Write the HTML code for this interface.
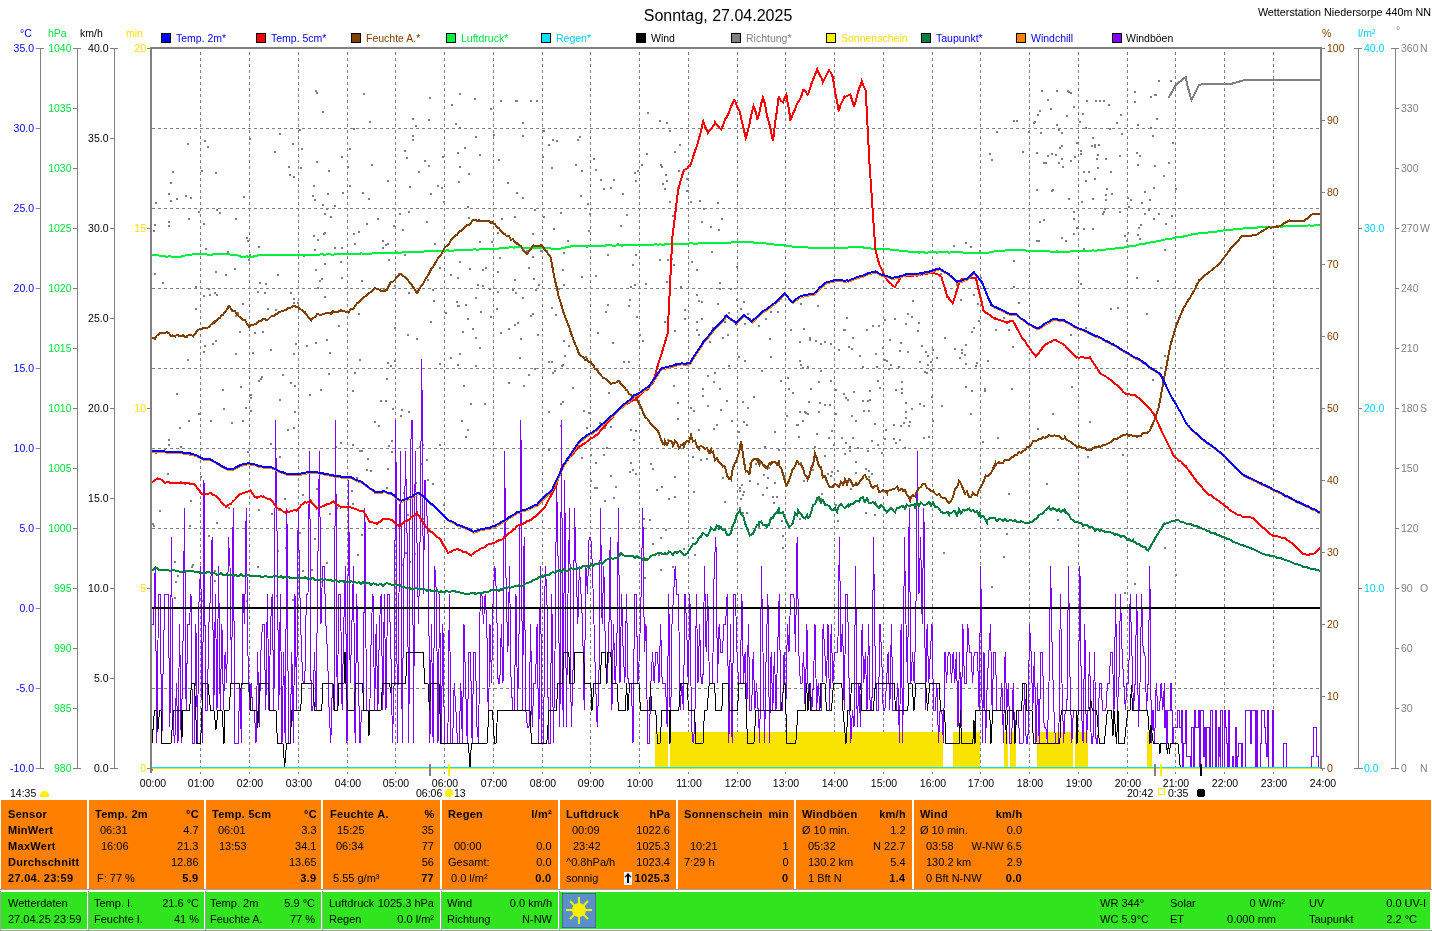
<!DOCTYPE html>
<html><head><meta charset="utf-8"><title>Wetterstation Niedersorpe</title>
<style>
html,body{margin:0;padding:0;background:#fff;width:1432px;height:931px;overflow:hidden;position:relative}
.t{position:absolute;font-family:"Liberation Sans",Arial,sans-serif;font-size:11px;line-height:16px;color:#000;white-space:nowrap}
svg text{font-family:"Liberation Sans",Arial,sans-serif}
</style></head><body>
<svg width="1432" height="800" viewBox="0 0 1432 800" style="position:absolute;left:0;top:0" font-family="Liberation Sans, Arial, sans-serif" font-size="10.5" shape-rendering="crispEdges"><line x1="200.5" y1="52" x2="200.5" y2="774" stroke="#808080" stroke-dasharray="3 3"/>
<line x1="249.5" y1="52" x2="249.5" y2="774" stroke="#808080" stroke-dasharray="3 3"/>
<line x1="298.5" y1="52" x2="298.5" y2="774" stroke="#808080" stroke-dasharray="3 3"/>
<line x1="347.5" y1="52" x2="347.5" y2="774" stroke="#808080" stroke-dasharray="3 3"/>
<line x1="395.5" y1="52" x2="395.5" y2="774" stroke="#808080" stroke-dasharray="3 3"/>
<line x1="444.5" y1="52" x2="444.5" y2="774" stroke="#808080" stroke-dasharray="3 3"/>
<line x1="493.5" y1="52" x2="493.5" y2="774" stroke="#808080" stroke-dasharray="3 3"/>
<line x1="542.5" y1="52" x2="542.5" y2="774" stroke="#808080" stroke-dasharray="3 3"/>
<line x1="590.5" y1="52" x2="590.5" y2="774" stroke="#808080" stroke-dasharray="3 3"/>
<line x1="639.5" y1="52" x2="639.5" y2="774" stroke="#808080" stroke-dasharray="3 3"/>
<line x1="688.5" y1="52" x2="688.5" y2="774" stroke="#808080" stroke-dasharray="3 3"/>
<line x1="737.5" y1="52" x2="737.5" y2="774" stroke="#808080" stroke-dasharray="3 3"/>
<line x1="785.5" y1="52" x2="785.5" y2="774" stroke="#808080" stroke-dasharray="3 3"/>
<line x1="834.5" y1="52" x2="834.5" y2="774" stroke="#808080" stroke-dasharray="3 3"/>
<line x1="883.5" y1="52" x2="883.5" y2="774" stroke="#808080" stroke-dasharray="3 3"/>
<line x1="932.5" y1="52" x2="932.5" y2="774" stroke="#808080" stroke-dasharray="3 3"/>
<line x1="980.5" y1="52" x2="980.5" y2="774" stroke="#808080" stroke-dasharray="3 3"/>
<line x1="1029.5" y1="52" x2="1029.5" y2="774" stroke="#808080" stroke-dasharray="3 3"/>
<line x1="1078.5" y1="52" x2="1078.5" y2="774" stroke="#808080" stroke-dasharray="3 3"/>
<line x1="1127.5" y1="52" x2="1127.5" y2="774" stroke="#808080" stroke-dasharray="3 3"/>
<line x1="1175.5" y1="52" x2="1175.5" y2="774" stroke="#808080" stroke-dasharray="3 3"/>
<line x1="1224.5" y1="52" x2="1224.5" y2="774" stroke="#808080" stroke-dasharray="3 3"/>
<line x1="1273.5" y1="52" x2="1273.5" y2="774" stroke="#808080" stroke-dasharray="3 3"/>
<line x1="152" y1="128.5" x2="1320" y2="128.5" stroke="#808080" stroke-dasharray="3 3"/>
<line x1="152" y1="208.5" x2="1320" y2="208.5" stroke="#808080" stroke-dasharray="3 3"/>
<line x1="152" y1="288.5" x2="1320" y2="288.5" stroke="#808080" stroke-dasharray="3 3"/>
<line x1="152" y1="368.5" x2="1320" y2="368.5" stroke="#808080" stroke-dasharray="3 3"/>
<line x1="152" y1="448.5" x2="1320" y2="448.5" stroke="#808080" stroke-dasharray="3 3"/>
<line x1="152" y1="528.5" x2="1320" y2="528.5" stroke="#808080" stroke-dasharray="3 3"/>
<line x1="152" y1="688.5" x2="1320" y2="688.5" stroke="#808080" stroke-dasharray="3 3"/>
<line x1="152.5" y1="768" x2="152.5" y2="774" stroke="#808080" stroke-dasharray="3 3"/>
<line x1="1322.5" y1="768" x2="1322.5" y2="774" stroke="#808080" stroke-dasharray="3 3"/>
<rect x="655" y="732" width="288" height="35" fill="#F8E400"/>
<rect x="953" y="732" width="27" height="35" fill="#F8E400"/>
<rect x="1004" y="732" width="4" height="35" fill="#F8E400"/>
<rect x="1010" y="732" width="6" height="35" fill="#F8E400"/>
<rect x="1037" y="732" width="36" height="35" fill="#F8E400"/>
<rect x="1075" y="732" width="13" height="35" fill="#F8E400"/>
<rect x="1147" y="732" width="5" height="35" fill="#F8E400"/>
<rect x="668" y="732" width="2" height="35" fill="#fff"/>
<g fill="#808080"><rect x="185" y="195" width="2" height="2"/><rect x="190" y="197" width="2" height="2"/><rect x="176" y="198" width="2" height="2"/><rect x="170" y="200" width="2" height="2"/><rect x="155" y="202" width="2" height="2"/><rect x="154" y="224" width="2" height="2"/><rect x="188" y="218" width="2" height="2"/><rect x="168" y="193" width="2" height="2"/><rect x="198" y="211" width="2" height="2"/><rect x="191" y="566" width="2" height="2"/><rect x="174" y="561" width="2" height="2"/><rect x="168" y="225" width="2" height="2"/><rect x="153" y="230" width="2" height="2"/><rect x="162" y="282" width="2" height="2"/><rect x="195" y="286" width="2" height="2"/><rect x="187" y="359" width="2" height="2"/><rect x="192" y="564" width="2" height="2"/><rect x="195" y="308" width="2" height="2"/><rect x="174" y="597" width="2" height="2"/><rect x="170" y="182" width="2" height="2"/><rect x="187" y="143" width="2" height="2"/><rect x="176" y="393" width="2" height="2"/><rect x="188" y="420" width="2" height="2"/><rect x="179" y="427" width="2" height="2"/><rect x="168" y="444" width="2" height="2"/><rect x="168" y="439" width="2" height="2"/><rect x="155" y="452" width="2" height="2"/><rect x="189" y="454" width="2" height="2"/><rect x="184" y="483" width="2" height="2"/><rect x="200" y="476" width="2" height="2"/><rect x="180" y="446" width="2" height="2"/><rect x="164" y="448" width="2" height="2"/><rect x="159" y="510" width="2" height="2"/><rect x="189" y="525" width="2" height="2"/><rect x="154" y="273" width="2" height="2"/><rect x="172" y="171" width="2" height="2"/><rect x="168" y="221" width="2" height="2"/><rect x="175" y="581" width="2" height="2"/><rect x="177" y="575" width="2" height="2"/><rect x="153" y="525" width="2" height="2"/><rect x="190" y="500" width="2" height="2"/><rect x="180" y="481" width="2" height="2"/><rect x="167" y="473" width="2" height="2"/><rect x="152" y="523" width="2" height="2"/><rect x="198" y="413" width="2" height="2"/><rect x="242" y="420" width="2" height="2"/><rect x="247" y="451" width="2" height="2"/><rect x="207" y="146" width="2" height="2"/><rect x="201" y="170" width="2" height="2"/><rect x="243" y="196" width="2" height="2"/><rect x="216" y="209" width="2" height="2"/><rect x="208" y="288" width="2" height="2"/><rect x="235" y="315" width="2" height="2"/><rect x="203" y="351" width="2" height="2"/><rect x="239" y="331" width="2" height="2"/><rect x="203" y="295" width="2" height="2"/><rect x="209" y="294" width="2" height="2"/><rect x="216" y="294" width="2" height="2"/><rect x="215" y="340" width="2" height="2"/><rect x="215" y="271" width="2" height="2"/><rect x="205" y="248" width="2" height="2"/><rect x="225" y="274" width="2" height="2"/><rect x="234" y="268" width="2" height="2"/><rect x="228" y="507" width="2" height="2"/><rect x="248" y="259" width="2" height="2"/><rect x="249" y="138" width="2" height="2"/><rect x="204" y="140" width="2" height="2"/><rect x="231" y="422" width="2" height="2"/><rect x="222" y="389" width="2" height="2"/><rect x="219" y="212" width="2" height="2"/><rect x="203" y="223" width="2" height="2"/><rect x="235" y="218" width="2" height="2"/><rect x="212" y="343" width="2" height="2"/><rect x="231" y="310" width="2" height="2"/><rect x="204" y="345" width="2" height="2"/><rect x="235" y="353" width="2" height="2"/><rect x="237" y="312" width="2" height="2"/><rect x="242" y="303" width="2" height="2"/><rect x="245" y="407" width="2" height="2"/><rect x="240" y="386" width="2" height="2"/><rect x="248" y="256" width="2" height="2"/><rect x="215" y="172" width="2" height="2"/><rect x="227" y="251" width="2" height="2"/><rect x="246" y="237" width="2" height="2"/><rect x="247" y="240" width="2" height="2"/><rect x="210" y="420" width="2" height="2"/><rect x="233" y="575" width="2" height="2"/><rect x="216" y="522" width="2" height="2"/><rect x="208" y="535" width="2" height="2"/><rect x="214" y="570" width="2" height="2"/><rect x="223" y="408" width="2" height="2"/><rect x="214" y="292" width="2" height="2"/><rect x="214" y="580" width="2" height="2"/><rect x="202" y="600" width="2" height="2"/><rect x="246" y="600" width="2" height="2"/><rect x="279" y="133" width="2" height="2"/><rect x="261" y="376" width="2" height="2"/><rect x="254" y="332" width="2" height="2"/><rect x="293" y="176" width="2" height="2"/><rect x="288" y="166" width="2" height="2"/><rect x="258" y="380" width="2" height="2"/><rect x="260" y="378" width="2" height="2"/><rect x="290" y="382" width="2" height="2"/><rect x="277" y="550" width="2" height="2"/><rect x="285" y="547" width="2" height="2"/><rect x="258" y="509" width="2" height="2"/><rect x="279" y="456" width="2" height="2"/><rect x="265" y="283" width="2" height="2"/><rect x="264" y="292" width="2" height="2"/><rect x="292" y="143" width="2" height="2"/><rect x="274" y="151" width="2" height="2"/><rect x="252" y="352" width="2" height="2"/><rect x="282" y="374" width="2" height="2"/><rect x="257" y="566" width="2" height="2"/><rect x="275" y="448" width="2" height="2"/><rect x="284" y="498" width="2" height="2"/><rect x="259" y="282" width="2" height="2"/><rect x="275" y="309" width="2" height="2"/><rect x="257" y="291" width="2" height="2"/><rect x="290" y="292" width="2" height="2"/><rect x="293" y="302" width="2" height="2"/><rect x="293" y="353" width="2" height="2"/><rect x="293" y="298" width="2" height="2"/><rect x="295" y="343" width="2" height="2"/><rect x="250" y="410" width="2" height="2"/><rect x="279" y="399" width="2" height="2"/><rect x="294" y="385" width="2" height="2"/><rect x="292" y="599" width="2" height="2"/><rect x="276" y="595" width="2" height="2"/><rect x="267" y="308" width="2" height="2"/><rect x="258" y="246" width="2" height="2"/><rect x="289" y="174" width="2" height="2"/><rect x="250" y="394" width="2" height="2"/><rect x="250" y="397" width="2" height="2"/><rect x="294" y="411" width="2" height="2"/><rect x="293" y="427" width="2" height="2"/><rect x="270" y="443" width="2" height="2"/><rect x="287" y="429" width="2" height="2"/><rect x="270" y="349" width="2" height="2"/><rect x="262" y="331" width="2" height="2"/><rect x="271" y="513" width="2" height="2"/><rect x="278" y="509" width="2" height="2"/><rect x="297" y="302" width="2" height="2"/><rect x="249" y="254" width="2" height="2"/><rect x="277" y="274" width="2" height="2"/><rect x="334" y="205" width="2" height="2"/><rect x="321" y="278" width="2" height="2"/><rect x="338" y="325" width="2" height="2"/><rect x="317" y="287" width="2" height="2"/><rect x="340" y="261" width="2" height="2"/><rect x="316" y="488" width="2" height="2"/><rect x="336" y="507" width="2" height="2"/><rect x="341" y="247" width="2" height="2"/><rect x="329" y="513" width="2" height="2"/><rect x="311" y="569" width="2" height="2"/><rect x="312" y="195" width="2" height="2"/><rect x="322" y="204" width="2" height="2"/><rect x="314" y="249" width="2" height="2"/><rect x="316" y="161" width="2" height="2"/><rect x="301" y="148" width="2" height="2"/><rect x="341" y="156" width="2" height="2"/><rect x="299" y="129" width="2" height="2"/><rect x="322" y="111" width="2" height="2"/><rect x="316" y="92" width="2" height="2"/><rect x="315" y="90" width="2" height="2"/><rect x="329" y="352" width="2" height="2"/><rect x="309" y="394" width="2" height="2"/><rect x="320" y="389" width="2" height="2"/><rect x="326" y="339" width="2" height="2"/><rect x="306" y="345" width="2" height="2"/><rect x="314" y="199" width="2" height="2"/><rect x="300" y="167" width="2" height="2"/><rect x="328" y="170" width="2" height="2"/><rect x="324" y="296" width="2" height="2"/><rect x="335" y="446" width="2" height="2"/><rect x="324" y="213" width="2" height="2"/><rect x="327" y="193" width="2" height="2"/><rect x="326" y="208" width="2" height="2"/><rect x="323" y="233" width="2" height="2"/><rect x="313" y="235" width="2" height="2"/><rect x="315" y="269" width="2" height="2"/><rect x="341" y="277" width="2" height="2"/><rect x="326" y="562" width="2" height="2"/><rect x="302" y="570" width="2" height="2"/><rect x="324" y="263" width="2" height="2"/><rect x="330" y="216" width="2" height="2"/><rect x="317" y="239" width="2" height="2"/><rect x="302" y="494" width="2" height="2"/><rect x="334" y="247" width="2" height="2"/><rect x="303" y="255" width="2" height="2"/><rect x="319" y="280" width="2" height="2"/><rect x="340" y="442" width="2" height="2"/><rect x="328" y="373" width="2" height="2"/><rect x="315" y="342" width="2" height="2"/><rect x="313" y="185" width="2" height="2"/><rect x="342" y="192" width="2" height="2"/><rect x="299" y="532" width="2" height="2"/><rect x="314" y="538" width="2" height="2"/><rect x="320" y="581" width="2" height="2"/><rect x="324" y="232" width="2" height="2"/><rect x="387" y="362" width="2" height="2"/><rect x="390" y="365" width="2" height="2"/><rect x="354" y="372" width="2" height="2"/><rect x="394" y="327" width="2" height="2"/><rect x="358" y="313" width="2" height="2"/><rect x="394" y="285" width="2" height="2"/><rect x="377" y="218" width="2" height="2"/><rect x="385" y="244" width="2" height="2"/><rect x="383" y="288" width="2" height="2"/><rect x="387" y="243" width="2" height="2"/><rect x="371" y="164" width="2" height="2"/><rect x="378" y="425" width="2" height="2"/><rect x="361" y="280" width="2" height="2"/><rect x="353" y="128" width="2" height="2"/><rect x="369" y="121" width="2" height="2"/><rect x="349" y="148" width="2" height="2"/><rect x="361" y="450" width="2" height="2"/><rect x="367" y="458" width="2" height="2"/><rect x="352" y="444" width="2" height="2"/><rect x="387" y="468" width="2" height="2"/><rect x="359" y="450" width="2" height="2"/><rect x="388" y="259" width="2" height="2"/><rect x="392" y="408" width="2" height="2"/><rect x="386" y="487" width="2" height="2"/><rect x="347" y="166" width="2" height="2"/><rect x="363" y="93" width="2" height="2"/><rect x="386" y="378" width="2" height="2"/><rect x="374" y="421" width="2" height="2"/><rect x="388" y="445" width="2" height="2"/><rect x="351" y="490" width="2" height="2"/><rect x="362" y="192" width="2" height="2"/><rect x="366" y="223" width="2" height="2"/><rect x="382" y="247" width="2" height="2"/><rect x="361" y="534" width="2" height="2"/><rect x="395" y="581" width="2" height="2"/><rect x="391" y="440" width="2" height="2"/><rect x="385" y="400" width="2" height="2"/><rect x="394" y="360" width="2" height="2"/><rect x="391" y="451" width="2" height="2"/><rect x="370" y="470" width="2" height="2"/><rect x="352" y="503" width="2" height="2"/><rect x="382" y="240" width="2" height="2"/><rect x="353" y="233" width="2" height="2"/><rect x="393" y="225" width="2" height="2"/><rect x="368" y="198" width="2" height="2"/><rect x="366" y="469" width="2" height="2"/><rect x="356" y="477" width="2" height="2"/><rect x="357" y="554" width="2" height="2"/><rect x="354" y="243" width="2" height="2"/><rect x="359" y="359" width="2" height="2"/><rect x="352" y="390" width="2" height="2"/><rect x="349" y="185" width="2" height="2"/><rect x="358" y="231" width="2" height="2"/><rect x="387" y="180" width="2" height="2"/><rect x="380" y="400" width="2" height="2"/><rect x="421" y="463" width="2" height="2"/><rect x="426" y="459" width="2" height="2"/><rect x="443" y="504" width="2" height="2"/><rect x="439" y="444" width="2" height="2"/><rect x="408" y="411" width="2" height="2"/><rect x="407" y="514" width="2" height="2"/><rect x="427" y="531" width="2" height="2"/><rect x="401" y="564" width="2" height="2"/><rect x="405" y="552" width="2" height="2"/><rect x="422" y="518" width="2" height="2"/><rect x="433" y="300" width="2" height="2"/><rect x="416" y="290" width="2" height="2"/><rect x="429" y="97" width="2" height="2"/><rect x="409" y="186" width="2" height="2"/><rect x="428" y="165" width="2" height="2"/><rect x="441" y="187" width="2" height="2"/><rect x="424" y="160" width="2" height="2"/><rect x="398" y="273" width="2" height="2"/><rect x="412" y="118" width="2" height="2"/><rect x="428" y="119" width="2" height="2"/><rect x="412" y="139" width="2" height="2"/><rect x="406" y="157" width="2" height="2"/><rect x="430" y="193" width="2" height="2"/><rect x="399" y="213" width="2" height="2"/><rect x="437" y="185" width="2" height="2"/><rect x="403" y="492" width="2" height="2"/><rect x="418" y="171" width="2" height="2"/><rect x="404" y="150" width="2" height="2"/><rect x="415" y="125" width="2" height="2"/><rect x="412" y="135" width="2" height="2"/><rect x="404" y="254" width="2" height="2"/><rect x="401" y="409" width="2" height="2"/><rect x="422" y="444" width="2" height="2"/><rect x="419" y="446" width="2" height="2"/><rect x="415" y="482" width="2" height="2"/><rect x="407" y="334" width="2" height="2"/><rect x="411" y="285" width="2" height="2"/><rect x="427" y="279" width="2" height="2"/><rect x="432" y="289" width="2" height="2"/><rect x="427" y="479" width="2" height="2"/><rect x="430" y="321" width="2" height="2"/><rect x="408" y="292" width="2" height="2"/><rect x="416" y="338" width="2" height="2"/><rect x="414" y="553" width="2" height="2"/><rect x="439" y="267" width="2" height="2"/><rect x="434" y="243" width="2" height="2"/><rect x="409" y="561" width="2" height="2"/><rect x="400" y="415" width="2" height="2"/><rect x="439" y="363" width="2" height="2"/><rect x="443" y="201" width="2" height="2"/><rect x="408" y="211" width="2" height="2"/><rect x="402" y="229" width="2" height="2"/><rect x="426" y="221" width="2" height="2"/><rect x="442" y="156" width="2" height="2"/><rect x="432" y="483" width="2" height="2"/><rect x="491" y="241" width="2" height="2"/><rect x="468" y="173" width="2" height="2"/><rect x="457" y="152" width="2" height="2"/><rect x="480" y="311" width="2" height="2"/><rect x="473" y="248" width="2" height="2"/><rect x="458" y="305" width="2" height="2"/><rect x="457" y="277" width="2" height="2"/><rect x="489" y="288" width="2" height="2"/><rect x="468" y="217" width="2" height="2"/><rect x="462" y="331" width="2" height="2"/><rect x="445" y="312" width="2" height="2"/><rect x="450" y="274" width="2" height="2"/><rect x="459" y="261" width="2" height="2"/><rect x="479" y="241" width="2" height="2"/><rect x="475" y="365" width="2" height="2"/><rect x="459" y="353" width="2" height="2"/><rect x="450" y="357" width="2" height="2"/><rect x="457" y="364" width="2" height="2"/><rect x="463" y="385" width="2" height="2"/><rect x="457" y="305" width="2" height="2"/><rect x="482" y="285" width="2" height="2"/><rect x="482" y="269" width="2" height="2"/><rect x="475" y="297" width="2" height="2"/><rect x="456" y="301" width="2" height="2"/><rect x="467" y="318" width="2" height="2"/><rect x="475" y="337" width="2" height="2"/><rect x="467" y="429" width="2" height="2"/><rect x="451" y="104" width="2" height="2"/><rect x="475" y="136" width="2" height="2"/><rect x="455" y="123" width="2" height="2"/><rect x="490" y="108" width="2" height="2"/><rect x="459" y="127" width="2" height="2"/><rect x="464" y="147" width="2" height="2"/><rect x="459" y="166" width="2" height="2"/><rect x="484" y="403" width="2" height="2"/><rect x="461" y="420" width="2" height="2"/><rect x="470" y="403" width="2" height="2"/><rect x="472" y="328" width="2" height="2"/><rect x="459" y="93" width="2" height="2"/><rect x="474" y="98" width="2" height="2"/><rect x="477" y="284" width="2" height="2"/><rect x="485" y="267" width="2" height="2"/><rect x="465" y="304" width="2" height="2"/><rect x="469" y="268" width="2" height="2"/><rect x="490" y="316" width="2" height="2"/><rect x="465" y="436" width="2" height="2"/><rect x="458" y="181" width="2" height="2"/><rect x="467" y="206" width="2" height="2"/><rect x="479" y="154" width="2" height="2"/><rect x="479" y="347" width="2" height="2"/><rect x="532" y="256" width="2" height="2"/><rect x="540" y="250" width="2" height="2"/><rect x="522" y="122" width="2" height="2"/><rect x="536" y="100" width="2" height="2"/><rect x="530" y="100" width="2" height="2"/><rect x="516" y="100" width="2" height="2"/><rect x="497" y="271" width="2" height="2"/><rect x="533" y="278" width="2" height="2"/><rect x="526" y="250" width="2" height="2"/><rect x="522" y="297" width="2" height="2"/><rect x="493" y="134" width="2" height="2"/><rect x="530" y="315" width="2" height="2"/><rect x="496" y="308" width="2" height="2"/><rect x="538" y="284" width="2" height="2"/><rect x="512" y="289" width="2" height="2"/><rect x="497" y="291" width="2" height="2"/><rect x="517" y="322" width="2" height="2"/><rect x="537" y="334" width="2" height="2"/><rect x="534" y="368" width="2" height="2"/><rect x="520" y="338" width="2" height="2"/><rect x="508" y="382" width="2" height="2"/><rect x="523" y="385" width="2" height="2"/><rect x="501" y="218" width="2" height="2"/><rect x="528" y="267" width="2" height="2"/><rect x="515" y="292" width="2" height="2"/><rect x="514" y="279" width="2" height="2"/><rect x="499" y="257" width="2" height="2"/><rect x="497" y="232" width="2" height="2"/><rect x="532" y="313" width="2" height="2"/><rect x="519" y="357" width="2" height="2"/><rect x="508" y="328" width="2" height="2"/><rect x="535" y="289" width="2" height="2"/><rect x="500" y="332" width="2" height="2"/><rect x="514" y="324" width="2" height="2"/><rect x="532" y="233" width="2" height="2"/><rect x="498" y="159" width="2" height="2"/><rect x="528" y="374" width="2" height="2"/><rect x="522" y="135" width="2" height="2"/><rect x="515" y="100" width="2" height="2"/><rect x="500" y="100" width="2" height="2"/><rect x="507" y="182" width="2" height="2"/><rect x="534" y="209" width="2" height="2"/><rect x="522" y="197" width="2" height="2"/><rect x="516" y="192" width="2" height="2"/><rect x="514" y="216" width="2" height="2"/><rect x="562" y="269" width="2" height="2"/><rect x="551" y="307" width="2" height="2"/><rect x="568" y="345" width="2" height="2"/><rect x="590" y="454" width="2" height="2"/><rect x="563" y="284" width="2" height="2"/><rect x="586" y="246" width="2" height="2"/><rect x="581" y="170" width="2" height="2"/><rect x="551" y="167" width="2" height="2"/><rect x="542" y="156" width="2" height="2"/><rect x="558" y="288" width="2" height="2"/><rect x="546" y="247" width="2" height="2"/><rect x="587" y="203" width="2" height="2"/><rect x="580" y="195" width="2" height="2"/><rect x="563" y="340" width="2" height="2"/><rect x="588" y="412" width="2" height="2"/><rect x="548" y="411" width="2" height="2"/><rect x="554" y="370" width="2" height="2"/><rect x="564" y="355" width="2" height="2"/><rect x="551" y="361" width="2" height="2"/><rect x="581" y="457" width="2" height="2"/><rect x="560" y="403" width="2" height="2"/><rect x="565" y="319" width="2" height="2"/><rect x="583" y="410" width="2" height="2"/><rect x="563" y="252" width="2" height="2"/><rect x="553" y="228" width="2" height="2"/><rect x="588" y="230" width="2" height="2"/><rect x="560" y="212" width="2" height="2"/><rect x="560" y="425" width="2" height="2"/><rect x="548" y="449" width="2" height="2"/><rect x="555" y="314" width="2" height="2"/><rect x="589" y="213" width="2" height="2"/><rect x="585" y="356" width="2" height="2"/><rect x="577" y="139" width="2" height="2"/><rect x="579" y="136" width="2" height="2"/><rect x="575" y="164" width="2" height="2"/><rect x="567" y="240" width="2" height="2"/><rect x="543" y="216" width="2" height="2"/><rect x="552" y="139" width="2" height="2"/><rect x="548" y="144" width="2" height="2"/><rect x="543" y="130" width="2" height="2"/><rect x="556" y="140" width="2" height="2"/><rect x="581" y="276" width="2" height="2"/><rect x="586" y="427" width="2" height="2"/><rect x="572" y="387" width="2" height="2"/><rect x="546" y="250" width="2" height="2"/><rect x="552" y="372" width="2" height="2"/><rect x="562" y="364" width="2" height="2"/><rect x="561" y="365" width="2" height="2"/><rect x="562" y="401" width="2" height="2"/><rect x="548" y="361" width="2" height="2"/><rect x="617" y="243" width="2" height="2"/><rect x="595" y="275" width="2" height="2"/><rect x="594" y="487" width="2" height="2"/><rect x="590" y="480" width="2" height="2"/><rect x="628" y="361" width="2" height="2"/><rect x="597" y="332" width="2" height="2"/><rect x="605" y="311" width="2" height="2"/><rect x="635" y="430" width="2" height="2"/><rect x="604" y="427" width="2" height="2"/><rect x="620" y="225" width="2" height="2"/><rect x="632" y="264" width="2" height="2"/><rect x="635" y="254" width="2" height="2"/><rect x="623" y="361" width="2" height="2"/><rect x="607" y="304" width="2" height="2"/><rect x="634" y="284" width="2" height="2"/><rect x="600" y="179" width="2" height="2"/><rect x="607" y="254" width="2" height="2"/><rect x="629" y="471" width="2" height="2"/><rect x="635" y="473" width="2" height="2"/><rect x="613" y="497" width="2" height="2"/><rect x="635" y="180" width="2" height="2"/><rect x="630" y="462" width="2" height="2"/><rect x="599" y="422" width="2" height="2"/><rect x="630" y="429" width="2" height="2"/><rect x="610" y="426" width="2" height="2"/><rect x="603" y="454" width="2" height="2"/><rect x="633" y="439" width="2" height="2"/><rect x="595" y="462" width="2" height="2"/><rect x="593" y="158" width="2" height="2"/><rect x="613" y="179" width="2" height="2"/><rect x="603" y="188" width="2" height="2"/><rect x="608" y="392" width="2" height="2"/><rect x="634" y="172" width="2" height="2"/><rect x="610" y="187" width="2" height="2"/><rect x="622" y="193" width="2" height="2"/><rect x="612" y="342" width="2" height="2"/><rect x="595" y="169" width="2" height="2"/><rect x="636" y="316" width="2" height="2"/><rect x="630" y="286" width="2" height="2"/><rect x="629" y="299" width="2" height="2"/><rect x="639" y="334" width="2" height="2"/><rect x="637" y="170" width="2" height="2"/><rect x="615" y="486" width="2" height="2"/><rect x="604" y="500" width="2" height="2"/><rect x="628" y="305" width="2" height="2"/><rect x="626" y="214" width="2" height="2"/><rect x="632" y="469" width="2" height="2"/><rect x="606" y="447" width="2" height="2"/><rect x="596" y="487" width="2" height="2"/><rect x="610" y="475" width="2" height="2"/><rect x="679" y="144" width="2" height="2"/><rect x="669" y="130" width="2" height="2"/><rect x="666" y="122" width="2" height="2"/><rect x="686" y="178" width="2" height="2"/><rect x="643" y="577" width="2" height="2"/><rect x="686" y="190" width="2" height="2"/><rect x="674" y="151" width="2" height="2"/><rect x="647" y="112" width="2" height="2"/><rect x="646" y="153" width="2" height="2"/><rect x="677" y="402" width="2" height="2"/><rect x="672" y="566" width="2" height="2"/><rect x="660" y="569" width="2" height="2"/><rect x="652" y="468" width="2" height="2"/><rect x="650" y="463" width="2" height="2"/><rect x="674" y="476" width="2" height="2"/><rect x="677" y="187" width="2" height="2"/><rect x="672" y="215" width="2" height="2"/><rect x="661" y="166" width="2" height="2"/><rect x="659" y="120" width="2" height="2"/><rect x="656" y="489" width="2" height="2"/><rect x="683" y="548" width="2" height="2"/><rect x="660" y="164" width="2" height="2"/><rect x="665" y="174" width="2" height="2"/><rect x="642" y="340" width="2" height="2"/><rect x="687" y="364" width="2" height="2"/><rect x="684" y="318" width="2" height="2"/><rect x="673" y="385" width="2" height="2"/><rect x="669" y="201" width="2" height="2"/><rect x="677" y="418" width="2" height="2"/><rect x="660" y="537" width="2" height="2"/><rect x="658" y="554" width="2" height="2"/><rect x="644" y="577" width="2" height="2"/><rect x="652" y="543" width="2" height="2"/><rect x="649" y="519" width="2" height="2"/><rect x="668" y="498" width="2" height="2"/><rect x="667" y="439" width="2" height="2"/><rect x="664" y="321" width="2" height="2"/><rect x="666" y="281" width="2" height="2"/><rect x="665" y="529" width="2" height="2"/><rect x="674" y="330" width="2" height="2"/><rect x="680" y="286" width="2" height="2"/><rect x="645" y="283" width="2" height="2"/><rect x="673" y="264" width="2" height="2"/><rect x="667" y="259" width="2" height="2"/><rect x="671" y="258" width="2" height="2"/><rect x="684" y="309" width="2" height="2"/><rect x="662" y="183" width="2" height="2"/><rect x="641" y="164" width="2" height="2"/><rect x="678" y="170" width="2" height="2"/><rect x="666" y="180" width="2" height="2"/><rect x="659" y="259" width="2" height="2"/><rect x="664" y="188" width="2" height="2"/><rect x="643" y="518" width="2" height="2"/><rect x="661" y="486" width="2" height="2"/><rect x="674" y="496" width="2" height="2"/><rect x="696" y="321" width="2" height="2"/><rect x="717" y="303" width="2" height="2"/><rect x="696" y="269" width="2" height="2"/><rect x="736" y="299" width="2" height="2"/><rect x="727" y="334" width="2" height="2"/><rect x="719" y="288" width="2" height="2"/><rect x="696" y="294" width="2" height="2"/><rect x="716" y="424" width="2" height="2"/><rect x="728" y="312" width="2" height="2"/><rect x="722" y="337" width="2" height="2"/><rect x="711" y="251" width="2" height="2"/><rect x="714" y="372" width="2" height="2"/><rect x="728" y="365" width="2" height="2"/><rect x="736" y="266" width="2" height="2"/><rect x="691" y="261" width="2" height="2"/><rect x="719" y="282" width="2" height="2"/><rect x="724" y="315" width="2" height="2"/><rect x="698" y="300" width="2" height="2"/><rect x="698" y="334" width="2" height="2"/><rect x="724" y="321" width="2" height="2"/><rect x="696" y="329" width="2" height="2"/><rect x="712" y="327" width="2" height="2"/><rect x="730" y="288" width="2" height="2"/><rect x="713" y="381" width="2" height="2"/><rect x="700" y="459" width="2" height="2"/><rect x="709" y="341" width="2" height="2"/><rect x="703" y="208" width="2" height="2"/><rect x="718" y="229" width="2" height="2"/><rect x="699" y="200" width="2" height="2"/><rect x="701" y="318" width="2" height="2"/><rect x="694" y="554" width="2" height="2"/><rect x="692" y="537" width="2" height="2"/><rect x="693" y="491" width="2" height="2"/><rect x="698" y="429" width="2" height="2"/><rect x="693" y="410" width="2" height="2"/><rect x="713" y="428" width="2" height="2"/><rect x="692" y="456" width="2" height="2"/><rect x="717" y="202" width="2" height="2"/><rect x="690" y="201" width="2" height="2"/><rect x="702" y="395" width="2" height="2"/><rect x="690" y="407" width="2" height="2"/><rect x="719" y="388" width="2" height="2"/><rect x="707" y="375" width="2" height="2"/><rect x="702" y="388" width="2" height="2"/><rect x="731" y="420" width="2" height="2"/><rect x="701" y="301" width="2" height="2"/><rect x="724" y="501" width="2" height="2"/><rect x="722" y="477" width="2" height="2"/><rect x="721" y="218" width="2" height="2"/><rect x="710" y="226" width="2" height="2"/><rect x="701" y="221" width="2" height="2"/><rect x="720" y="409" width="2" height="2"/><rect x="707" y="405" width="2" height="2"/><rect x="726" y="400" width="2" height="2"/><rect x="706" y="458" width="2" height="2"/><rect x="782" y="535" width="2" height="2"/><rect x="747" y="407" width="2" height="2"/><rect x="768" y="467" width="2" height="2"/><rect x="784" y="475" width="2" height="2"/><rect x="753" y="396" width="2" height="2"/><rect x="780" y="380" width="2" height="2"/><rect x="749" y="318" width="2" height="2"/><rect x="758" y="325" width="2" height="2"/><rect x="744" y="323" width="2" height="2"/><rect x="770" y="311" width="2" height="2"/><rect x="772" y="496" width="2" height="2"/><rect x="765" y="318" width="2" height="2"/><rect x="778" y="300" width="2" height="2"/><rect x="749" y="463" width="2" height="2"/><rect x="782" y="547" width="2" height="2"/><rect x="743" y="421" width="2" height="2"/><rect x="742" y="512" width="2" height="2"/><rect x="749" y="467" width="2" height="2"/><rect x="749" y="480" width="2" height="2"/><rect x="739" y="487" width="2" height="2"/><rect x="738" y="431" width="2" height="2"/><rect x="755" y="463" width="2" height="2"/><rect x="773" y="502" width="2" height="2"/><rect x="766" y="487" width="2" height="2"/><rect x="762" y="494" width="2" height="2"/><rect x="758" y="526" width="2" height="2"/><rect x="764" y="446" width="2" height="2"/><rect x="746" y="424" width="2" height="2"/><rect x="774" y="482" width="2" height="2"/><rect x="740" y="498" width="2" height="2"/><rect x="740" y="308" width="2" height="2"/><rect x="743" y="301" width="2" height="2"/><rect x="747" y="313" width="2" height="2"/><rect x="767" y="477" width="2" height="2"/><rect x="781" y="520" width="2" height="2"/><rect x="739" y="507" width="2" height="2"/><rect x="759" y="463" width="2" height="2"/><rect x="743" y="491" width="2" height="2"/><rect x="741" y="484" width="2" height="2"/><rect x="742" y="401" width="2" height="2"/><rect x="744" y="360" width="2" height="2"/><rect x="776" y="496" width="2" height="2"/><rect x="742" y="494" width="2" height="2"/><rect x="774" y="431" width="2" height="2"/><rect x="757" y="483" width="2" height="2"/><rect x="777" y="311" width="2" height="2"/><rect x="770" y="356" width="2" height="2"/><rect x="761" y="370" width="2" height="2"/><rect x="746" y="512" width="2" height="2"/><rect x="778" y="449" width="2" height="2"/><rect x="763" y="474" width="2" height="2"/><rect x="738" y="356" width="2" height="2"/><rect x="769" y="338" width="2" height="2"/><rect x="777" y="509" width="2" height="2"/><rect x="739" y="490" width="2" height="2"/><rect x="833" y="444" width="2" height="2"/><rect x="805" y="412" width="2" height="2"/><rect x="824" y="404" width="2" height="2"/><rect x="799" y="518" width="2" height="2"/><rect x="802" y="420" width="2" height="2"/><rect x="799" y="360" width="2" height="2"/><rect x="807" y="366" width="2" height="2"/><rect x="831" y="471" width="2" height="2"/><rect x="819" y="402" width="2" height="2"/><rect x="809" y="337" width="2" height="2"/><rect x="790" y="329" width="2" height="2"/><rect x="820" y="370" width="2" height="2"/><rect x="802" y="367" width="2" height="2"/><rect x="809" y="339" width="2" height="2"/><rect x="786" y="415" width="2" height="2"/><rect x="818" y="411" width="2" height="2"/><rect x="830" y="380" width="2" height="2"/><rect x="810" y="388" width="2" height="2"/><rect x="799" y="411" width="2" height="2"/><rect x="788" y="388" width="2" height="2"/><rect x="830" y="343" width="2" height="2"/><rect x="803" y="480" width="2" height="2"/><rect x="812" y="469" width="2" height="2"/><rect x="815" y="456" width="2" height="2"/><rect x="821" y="493" width="2" height="2"/><rect x="830" y="475" width="2" height="2"/><rect x="787" y="377" width="2" height="2"/><rect x="824" y="341" width="2" height="2"/><rect x="818" y="381" width="2" height="2"/><rect x="807" y="367" width="2" height="2"/><rect x="799" y="341" width="2" height="2"/><rect x="803" y="328" width="2" height="2"/><rect x="827" y="473" width="2" height="2"/><rect x="820" y="343" width="2" height="2"/><rect x="828" y="437" width="2" height="2"/><rect x="814" y="446" width="2" height="2"/><rect x="792" y="392" width="2" height="2"/><rect x="829" y="404" width="2" height="2"/><rect x="808" y="401" width="2" height="2"/><rect x="800" y="364" width="2" height="2"/><rect x="804" y="411" width="2" height="2"/><rect x="798" y="436" width="2" height="2"/><rect x="797" y="424" width="2" height="2"/><rect x="820" y="498" width="2" height="2"/><rect x="800" y="462" width="2" height="2"/><rect x="817" y="499" width="2" height="2"/><rect x="824" y="455" width="2" height="2"/><rect x="815" y="340" width="2" height="2"/><rect x="800" y="303" width="2" height="2"/><rect x="817" y="305" width="2" height="2"/><rect x="791" y="469" width="2" height="2"/><rect x="796" y="424" width="2" height="2"/><rect x="816" y="433" width="2" height="2"/><rect x="831" y="430" width="2" height="2"/><rect x="807" y="413" width="2" height="2"/><rect x="862" y="366" width="2" height="2"/><rect x="878" y="325" width="2" height="2"/><rect x="871" y="440" width="2" height="2"/><rect x="846" y="317" width="2" height="2"/><rect x="843" y="329" width="2" height="2"/><rect x="872" y="325" width="2" height="2"/><rect x="853" y="391" width="2" height="2"/><rect x="877" y="380" width="2" height="2"/><rect x="875" y="353" width="2" height="2"/><rect x="851" y="348" width="2" height="2"/><rect x="837" y="470" width="2" height="2"/><rect x="855" y="461" width="2" height="2"/><rect x="841" y="437" width="2" height="2"/><rect x="844" y="453" width="2" height="2"/><rect x="874" y="423" width="2" height="2"/><rect x="869" y="399" width="2" height="2"/><rect x="835" y="389" width="2" height="2"/><rect x="869" y="390" width="2" height="2"/><rect x="852" y="437" width="2" height="2"/><rect x="867" y="450" width="2" height="2"/><rect x="857" y="447" width="2" height="2"/><rect x="838" y="349" width="2" height="2"/><rect x="845" y="442" width="2" height="2"/><rect x="877" y="444" width="2" height="2"/><rect x="851" y="415" width="2" height="2"/><rect x="863" y="410" width="2" height="2"/><rect x="849" y="450" width="2" height="2"/><rect x="881" y="452" width="2" height="2"/><rect x="868" y="470" width="2" height="2"/><rect x="862" y="400" width="2" height="2"/><rect x="845" y="397" width="2" height="2"/><rect x="850" y="488" width="2" height="2"/><rect x="835" y="504" width="2" height="2"/><rect x="866" y="329" width="2" height="2"/><rect x="867" y="400" width="2" height="2"/><rect x="871" y="473" width="2" height="2"/><rect x="855" y="472" width="2" height="2"/><rect x="835" y="413" width="2" height="2"/><rect x="865" y="512" width="2" height="2"/><rect x="837" y="520" width="2" height="2"/><rect x="874" y="514" width="2" height="2"/><rect x="855" y="420" width="2" height="2"/><rect x="879" y="387" width="2" height="2"/><rect x="843" y="393" width="2" height="2"/><rect x="876" y="366" width="2" height="2"/><rect x="882" y="347" width="2" height="2"/><rect x="859" y="355" width="2" height="2"/><rect x="865" y="468" width="2" height="2"/><rect x="849" y="446" width="2" height="2"/><rect x="868" y="410" width="2" height="2"/><rect x="847" y="399" width="2" height="2"/><rect x="848" y="346" width="2" height="2"/><rect x="844" y="329" width="2" height="2"/><rect x="852" y="337" width="2" height="2"/><rect x="868" y="476" width="2" height="2"/><rect x="907" y="313" width="2" height="2"/><rect x="894" y="318" width="2" height="2"/><rect x="890" y="364" width="2" height="2"/><rect x="921" y="345" width="2" height="2"/><rect x="899" y="439" width="2" height="2"/><rect x="923" y="405" width="2" height="2"/><rect x="927" y="364" width="2" height="2"/><rect x="884" y="319" width="2" height="2"/><rect x="905" y="417" width="2" height="2"/><rect x="901" y="388" width="2" height="2"/><rect x="905" y="402" width="2" height="2"/><rect x="919" y="361" width="2" height="2"/><rect x="918" y="322" width="2" height="2"/><rect x="899" y="350" width="2" height="2"/><rect x="907" y="351" width="2" height="2"/><rect x="884" y="438" width="2" height="2"/><rect x="900" y="425" width="2" height="2"/><rect x="895" y="442" width="2" height="2"/><rect x="904" y="447" width="2" height="2"/><rect x="893" y="438" width="2" height="2"/><rect x="911" y="408" width="2" height="2"/><rect x="931" y="396" width="2" height="2"/><rect x="911" y="316" width="2" height="2"/><rect x="884" y="359" width="2" height="2"/><rect x="925" y="351" width="2" height="2"/><rect x="928" y="436" width="2" height="2"/><rect x="901" y="392" width="2" height="2"/><rect x="885" y="429" width="2" height="2"/><rect x="919" y="403" width="2" height="2"/><rect x="908" y="425" width="2" height="2"/><rect x="898" y="366" width="2" height="2"/><rect x="901" y="381" width="2" height="2"/><rect x="893" y="424" width="2" height="2"/><rect x="905" y="323" width="2" height="2"/><rect x="900" y="342" width="2" height="2"/><rect x="909" y="421" width="2" height="2"/><rect x="905" y="411" width="2" height="2"/><rect x="923" y="437" width="2" height="2"/><rect x="886" y="360" width="2" height="2"/><rect x="927" y="355" width="2" height="2"/><rect x="895" y="389" width="2" height="2"/><rect x="912" y="300" width="2" height="2"/><rect x="889" y="339" width="2" height="2"/><rect x="917" y="330" width="2" height="2"/><rect x="926" y="372" width="2" height="2"/><rect x="924" y="371" width="2" height="2"/><rect x="930" y="369" width="2" height="2"/><rect x="903" y="422" width="2" height="2"/><rect x="888" y="368" width="2" height="2"/><rect x="930" y="361" width="2" height="2"/><rect x="932" y="420" width="2" height="2"/><rect x="932" y="349" width="2" height="2"/><rect x="964" y="354" width="2" height="2"/><rect x="973" y="327" width="2" height="2"/><rect x="959" y="357" width="2" height="2"/><rect x="971" y="331" width="2" height="2"/><rect x="975" y="365" width="2" height="2"/><rect x="954" y="348" width="2" height="2"/><rect x="971" y="390" width="2" height="2"/><rect x="970" y="413" width="2" height="2"/><rect x="965" y="386" width="2" height="2"/><rect x="960" y="299" width="2" height="2"/><rect x="965" y="242" width="2" height="2"/><rect x="973" y="294" width="2" height="2"/><rect x="961" y="349" width="2" height="2"/><rect x="936" y="357" width="2" height="2"/><rect x="965" y="363" width="2" height="2"/><rect x="953" y="245" width="2" height="2"/><rect x="977" y="303" width="2" height="2"/><rect x="956" y="284" width="2" height="2"/><rect x="941" y="405" width="2" height="2"/><rect x="940" y="273" width="2" height="2"/><rect x="970" y="246" width="2" height="2"/><rect x="961" y="352" width="2" height="2"/><rect x="978" y="320" width="2" height="2"/><rect x="976" y="362" width="2" height="2"/><rect x="980" y="277" width="2" height="2"/><rect x="979" y="250" width="2" height="2"/><rect x="965" y="344" width="2" height="2"/><rect x="944" y="337" width="2" height="2"/><rect x="1013" y="286" width="2" height="2"/><rect x="984" y="390" width="2" height="2"/><rect x="996" y="131" width="2" height="2"/><rect x="1022" y="151" width="2" height="2"/><rect x="991" y="159" width="2" height="2"/><rect x="989" y="153" width="2" height="2"/><rect x="1018" y="302" width="2" height="2"/><rect x="997" y="437" width="2" height="2"/><rect x="1008" y="493" width="2" height="2"/><rect x="1013" y="260" width="2" height="2"/><rect x="1028" y="131" width="2" height="2"/><rect x="1013" y="120" width="2" height="2"/><rect x="1016" y="120" width="2" height="2"/><rect x="987" y="313" width="2" height="2"/><rect x="987" y="360" width="2" height="2"/><rect x="1011" y="388" width="2" height="2"/><rect x="1003" y="317" width="2" height="2"/><rect x="995" y="329" width="2" height="2"/><rect x="1012" y="346" width="2" height="2"/><rect x="984" y="388" width="2" height="2"/><rect x="982" y="441" width="2" height="2"/><rect x="1024" y="449" width="2" height="2"/><rect x="1047" y="99" width="2" height="2"/><rect x="1033" y="122" width="2" height="2"/><rect x="1045" y="162" width="2" height="2"/><rect x="1070" y="160" width="2" height="2"/><rect x="1068" y="198" width="2" height="2"/><rect x="1076" y="142" width="2" height="2"/><rect x="1043" y="162" width="2" height="2"/><rect x="1036" y="152" width="2" height="2"/><rect x="1061" y="237" width="2" height="2"/><rect x="1052" y="189" width="2" height="2"/><rect x="1036" y="189" width="2" height="2"/><rect x="1051" y="153" width="2" height="2"/><rect x="1061" y="158" width="2" height="2"/><rect x="1066" y="115" width="2" height="2"/><rect x="1073" y="233" width="2" height="2"/><rect x="1062" y="166" width="2" height="2"/><rect x="1058" y="162" width="2" height="2"/><rect x="1061" y="145" width="2" height="2"/><rect x="1068" y="91" width="2" height="2"/><rect x="1040" y="132" width="2" height="2"/><rect x="1055" y="154" width="2" height="2"/><rect x="1074" y="156" width="2" height="2"/><rect x="1056" y="124" width="2" height="2"/><rect x="1039" y="110" width="2" height="2"/><rect x="1051" y="190" width="2" height="2"/><rect x="1047" y="155" width="2" height="2"/><rect x="1050" y="108" width="2" height="2"/><rect x="1061" y="132" width="2" height="2"/><rect x="1073" y="106" width="2" height="2"/><rect x="1059" y="147" width="2" height="2"/><rect x="1058" y="129" width="2" height="2"/><rect x="1073" y="211" width="2" height="2"/><rect x="1070" y="92" width="2" height="2"/><rect x="1037" y="114" width="2" height="2"/><rect x="1041" y="90" width="2" height="2"/><rect x="1067" y="90" width="2" height="2"/><rect x="1056" y="90" width="2" height="2"/><rect x="1039" y="221" width="2" height="2"/><rect x="1043" y="219" width="2" height="2"/><rect x="1073" y="218" width="2" height="2"/><rect x="1038" y="240" width="2" height="2"/><rect x="1036" y="240" width="2" height="2"/><rect x="1065" y="240" width="2" height="2"/><rect x="1076" y="227" width="2" height="2"/><rect x="1034" y="121" width="2" height="2"/><rect x="1096" y="158" width="2" height="2"/><rect x="1119" y="155" width="2" height="2"/><rect x="1082" y="113" width="2" height="2"/><rect x="1085" y="127" width="2" height="2"/><rect x="1094" y="144" width="2" height="2"/><rect x="1080" y="150" width="2" height="2"/><rect x="1120" y="114" width="2" height="2"/><rect x="1097" y="154" width="2" height="2"/><rect x="1092" y="228" width="2" height="2"/><rect x="1097" y="167" width="2" height="2"/><rect x="1080" y="283" width="2" height="2"/><rect x="1105" y="194" width="2" height="2"/><rect x="1104" y="208" width="2" height="2"/><rect x="1091" y="145" width="2" height="2"/><rect x="1094" y="178" width="2" height="2"/><rect x="1106" y="188" width="2" height="2"/><rect x="1085" y="180" width="2" height="2"/><rect x="1111" y="193" width="2" height="2"/><rect x="1126" y="240" width="2" height="2"/><rect x="1124" y="235" width="2" height="2"/><rect x="1092" y="137" width="2" height="2"/><rect x="1083" y="228" width="2" height="2"/><rect x="1102" y="213" width="2" height="2"/><rect x="1103" y="211" width="2" height="2"/><rect x="1083" y="171" width="2" height="2"/><rect x="1098" y="144" width="2" height="2"/><rect x="1083" y="248" width="2" height="2"/><rect x="1119" y="211" width="2" height="2"/><rect x="1105" y="199" width="2" height="2"/><rect x="1081" y="201" width="2" height="2"/><rect x="1121" y="133" width="2" height="2"/><rect x="1092" y="198" width="2" height="2"/><rect x="1080" y="153" width="2" height="2"/><rect x="1095" y="100" width="2" height="2"/><rect x="1110" y="171" width="2" height="2"/><rect x="1094" y="146" width="2" height="2"/><rect x="1088" y="171" width="2" height="2"/><rect x="1105" y="158" width="2" height="2"/><rect x="1108" y="104" width="2" height="2"/><rect x="1086" y="100" width="2" height="2"/><rect x="1099" y="100" width="2" height="2"/><rect x="1079" y="121" width="2" height="2"/><rect x="1103" y="100" width="2" height="2"/><rect x="1116" y="122" width="2" height="2"/><rect x="1109" y="128" width="2" height="2"/><rect x="1171" y="215" width="2" height="2"/><rect x="1158" y="213" width="2" height="2"/><rect x="1153" y="218" width="2" height="2"/><rect x="1127" y="197" width="2" height="2"/><rect x="1134" y="101" width="2" height="2"/><rect x="1170" y="80" width="2" height="2"/><rect x="1141" y="202" width="2" height="2"/><rect x="1140" y="224" width="2" height="2"/><rect x="1127" y="232" width="2" height="2"/><rect x="1136" y="152" width="2" height="2"/><rect x="1163" y="175" width="2" height="2"/><rect x="1153" y="187" width="2" height="2"/><rect x="1148" y="209" width="2" height="2"/><rect x="1139" y="238" width="2" height="2"/><rect x="1137" y="164" width="2" height="2"/><rect x="1156" y="118" width="2" height="2"/><rect x="1137" y="234" width="2" height="2"/><rect x="1138" y="227" width="2" height="2"/><rect x="1157" y="280" width="2" height="2"/><rect x="1144" y="213" width="2" height="2"/><rect x="1136" y="277" width="2" height="2"/><rect x="1168" y="162" width="2" height="2"/><rect x="1130" y="199" width="2" height="2"/><rect x="1165" y="223" width="2" height="2"/><rect x="1128" y="206" width="2" height="2"/><rect x="1150" y="127" width="2" height="2"/><rect x="1134" y="91" width="2" height="2"/><rect x="1154" y="165" width="2" height="2"/><rect x="1164" y="249" width="2" height="2"/><rect x="1172" y="142" width="2" height="2"/><rect x="1139" y="155" width="2" height="2"/><rect x="1150" y="96" width="2" height="2"/><rect x="1158" y="80" width="2" height="2"/><rect x="1155" y="94" width="2" height="2"/><rect x="1152" y="135" width="2" height="2"/><rect x="1144" y="191" width="2" height="2"/><rect x="1175" y="188" width="2" height="2"/><rect x="1154" y="94" width="2" height="2"/><rect x="1137" y="124" width="2" height="2"/><rect x="1149" y="199" width="2" height="2"/><rect x="991" y="586" width="2" height="2"/><rect x="1110" y="308" width="2" height="2"/><rect x="1008" y="329" width="2" height="2"/><rect x="1003" y="556" width="2" height="2"/><rect x="1134" y="583" width="2" height="2"/><rect x="1046" y="483" width="2" height="2"/><rect x="1071" y="386" width="2" height="2"/><rect x="1164" y="355" width="2" height="2"/><rect x="1160" y="367" width="2" height="2"/><rect x="1122" y="454" width="2" height="2"/><rect x="943" y="552" width="2" height="2"/><rect x="1070" y="334" width="2" height="2"/><rect x="1175" y="574" width="2" height="2"/><rect x="1085" y="327" width="2" height="2"/><rect x="1146" y="313" width="2" height="2"/><rect x="1164" y="547" width="2" height="2"/><rect x="1124" y="592" width="2" height="2"/><rect x="1089" y="421" width="2" height="2"/><rect x="1037" y="428" width="2" height="2"/><rect x="1057" y="519" width="2" height="2"/><rect x="1087" y="456" width="2" height="2"/><rect x="1117" y="307" width="2" height="2"/><rect x="1152" y="379" width="2" height="2"/><rect x="1006" y="533" width="2" height="2"/><rect x="1052" y="413" width="2" height="2"/></g>
<polyline points="1168.3,98.3 1176.0,84.7 1185.7,77.0 1187.7,86.7 1191.5,100.2 1199.3,84.7 1207.0,83.6 1232.1,83.6 1245.7,79.7 1320.3,79.7" fill="none" stroke="#808080" stroke-width="2"/>
<polyline points="152.0,624.0 153.6,624.0 155.2,566.0 156.9,743.0 158.5,594.0 160.1,594.0 161.8,743.0 163.4,652.0 165.0,594.0 166.6,594.0 168.2,594.0 169.9,727.0 171.5,537.0 173.1,727.0 174.8,743.0 176.4,683.0 178.0,743.0 179.6,624.0 181.2,743.0 182.9,652.0 184.5,508.0 186.1,710.0 187.8,624.0 189.4,624.0 191.0,594.0 192.6,743.0 194.2,743.0 195.9,624.0 197.5,743.0 199.1,594.0 200.8,566.0 202.4,743.0 204.0,480.0 205.6,710.0 207.2,710.0 208.9,624.0 210.5,594.0 212.1,537.0 213.8,710.0 215.4,594.0 217.0,710.0 218.6,566.0 220.2,710.0 221.9,624.0 223.5,710.0 225.1,652.0 226.8,683.0 228.4,537.0 230.0,566.0 231.6,683.0 233.2,508.0 234.9,743.0 236.5,743.0 238.1,743.0 239.8,683.0 241.4,743.0 243.0,594.0 244.6,624.0 246.2,508.0 247.9,652.0 249.5,710.0 251.1,683.0 252.8,710.0 254.4,710.0 256.0,743.0 257.6,652.0 259.2,727.0 260.9,652.0 262.5,624.0 264.1,624.0 265.8,710.0 267.4,594.0 269.0,710.0 270.6,624.0 272.2,594.0 273.9,710.0 275.5,420.0 277.1,537.0 278.8,710.0 280.4,594.0 282.0,743.0 283.6,652.0 285.2,743.0 286.9,508.0 288.5,743.0 290.1,743.0 291.8,652.0 293.4,743.0 295.0,594.0 296.6,710.0 298.2,508.0 299.9,594.0 301.5,652.0 303.1,683.0 304.8,683.0 306.4,594.0 308.0,594.0 309.6,451.0 311.2,710.0 312.9,710.0 314.5,652.0 316.1,710.0 317.8,566.0 319.4,451.0 321.0,624.0 322.6,566.0 324.2,566.0 325.9,624.0 327.5,652.0 329.1,710.0 330.8,743.0 332.4,683.0 334.0,710.0 335.6,420.0 337.2,710.0 338.9,594.0 340.5,594.0 342.1,710.0 343.8,624.0 345.4,566.0 347.0,743.0 348.6,480.0 350.2,683.0 351.9,624.0 353.5,566.0 355.1,743.0 356.8,594.0 358.4,683.0 360.0,743.0 361.6,710.0 363.2,710.0 364.9,508.0 366.5,710.0 368.1,710.0 369.8,710.0 371.4,624.0 373.0,594.0 374.6,710.0 376.2,624.0 377.9,710.0 379.5,624.0 381.1,594.0 382.8,710.0 384.4,594.0 386.0,710.0 387.6,594.0 389.2,594.0 390.9,652.0 392.5,743.0 394.1,683.0 395.8,420.0 397.4,743.0 399.0,594.0 400.6,451.0 402.2,743.0 403.9,566.0 405.5,451.0 407.1,537.0 408.8,743.0 410.4,451.0 412.0,420.0 413.6,743.0 415.2,451.0 416.9,537.0 418.5,624.0 420.1,537.0 421.8,359.0 423.4,594.0 425.0,480.0 426.6,508.0 428.2,537.0 429.9,743.0 431.5,624.0 433.1,743.0 434.8,566.0 436.4,594.0 438.0,743.0 439.6,594.0 441.2,743.0 442.9,624.0 444.5,743.0 446.1,743.0 447.8,743.0 449.4,594.0 451.0,743.0 452.6,743.0 454.2,683.0 455.9,710.0 457.5,743.0 459.1,743.0 460.8,683.0 462.4,743.0 464.0,624.0 465.6,683.0 467.2,743.0 468.9,652.0 470.5,652.0 472.1,743.0 473.8,652.0 475.4,652.0 477.0,727.0 478.6,743.0 480.2,594.0 481.9,594.0 483.5,624.0 485.1,594.0 486.8,624.0 488.4,727.0 490.0,624.0 491.6,683.0 493.2,594.0 494.9,566.0 496.5,594.0 498.1,683.0 499.8,683.0 501.4,624.0 503.0,683.0 504.6,451.0 506.2,594.0 507.9,652.0 509.5,566.0 511.1,683.0 512.8,710.0 514.4,710.0 516.0,594.0 517.6,710.0 519.2,624.0 520.9,420.0 522.5,710.0 524.1,537.0 525.8,710.0 527.4,727.0 529.0,727.0 530.6,624.0 532.2,727.0 533.9,683.0 535.5,683.0 537.1,624.0 538.8,743.0 540.4,566.0 542.0,743.0 543.6,743.0 545.2,566.0 546.9,594.0 548.5,743.0 550.1,743.0 551.8,594.0 553.4,743.0 555.0,652.0 556.6,480.0 558.2,566.0 559.9,727.0 561.5,420.0 563.1,727.0 564.8,480.0 566.4,727.0 568.0,594.0 569.6,508.0 571.2,727.0 572.9,683.0 574.5,508.0 576.1,566.0 577.8,624.0 579.4,566.0 581.0,594.0 582.6,624.0 584.2,710.0 585.9,566.0 587.5,594.0 589.1,537.0 590.8,537.0 592.4,566.0 594.0,624.0 595.6,683.0 597.2,727.0 598.9,683.0 600.5,508.0 602.1,624.0 603.8,566.0 605.4,652.0 607.0,683.0 608.6,652.0 610.2,537.0 611.9,710.0 613.5,624.0 615.1,683.0 616.8,652.0 618.4,508.0 620.0,683.0 621.6,594.0 623.2,652.0 624.9,683.0 626.5,594.0 628.1,683.0 629.8,683.0 631.4,683.0 633.0,743.0 634.6,594.0 636.2,594.0 637.9,683.0 639.5,652.0 641.1,594.0 642.8,508.0 644.4,652.0 646.0,624.0 647.6,743.0 649.2,743.0 650.9,683.0 652.5,652.0 654.1,683.0 655.8,652.0 657.4,652.0 659.0,683.0 660.6,624.0 662.2,683.0 663.9,683.0 665.5,683.0 667.1,727.0 668.8,594.0 670.4,743.0 672.0,624.0 673.6,594.0 675.2,566.0 676.9,594.0 678.5,594.0 680.1,710.0 681.8,683.0 683.4,710.0 685.0,594.0 686.6,624.0 688.2,683.0 689.9,594.0 691.5,727.0 693.1,743.0 694.8,727.0 696.4,594.0 698.0,683.0 699.6,624.0 701.2,683.0 702.9,683.0 704.5,566.0 706.1,652.0 707.8,594.0 709.4,683.0 711.0,683.0 712.6,683.0 714.2,566.0 715.9,537.0 717.5,683.0 719.1,624.0 720.8,652.0 722.4,652.0 724.0,624.0 725.6,624.0 727.2,594.0 728.9,743.0 730.5,624.0 732.1,743.0 733.8,594.0 735.4,594.0 737.0,652.0 738.6,683.0 740.2,683.0 741.9,594.0 743.5,683.0 745.1,652.0 746.8,710.0 748.4,624.0 750.0,710.0 751.6,710.0 753.2,652.0 754.9,710.0 756.5,683.0 758.1,710.0 759.8,743.0 761.4,566.0 763.0,652.0 764.6,743.0 766.2,652.0 767.9,594.0 769.5,743.0 771.1,652.0 772.8,710.0 774.4,652.0 776.0,710.0 777.6,652.0 779.2,594.0 780.9,710.0 782.5,710.0 784.1,652.0 785.8,710.0 787.4,624.0 789.0,652.0 790.6,594.0 792.2,594.0 793.9,594.0 795.5,652.0 797.1,537.0 798.8,652.0 800.4,683.0 802.0,683.0 803.6,652.0 805.2,710.0 806.9,624.0 808.5,710.0 810.1,683.0 811.8,710.0 813.4,683.0 815.0,624.0 816.6,710.0 818.2,683.0 819.9,710.0 821.5,710.0 823.1,624.0 824.8,652.0 826.4,683.0 828.0,624.0 829.6,710.0 831.2,624.0 832.9,683.0 834.5,652.0 836.1,652.0 837.8,652.0 839.4,537.0 841.0,652.0 842.6,624.0 844.2,710.0 845.9,594.0 847.5,594.0 849.1,683.0 850.8,743.0 852.4,710.0 854.0,727.0 855.6,566.0 857.2,727.0 858.9,683.0 860.5,727.0 862.1,624.0 863.8,683.0 865.4,652.0 867.0,710.0 868.6,624.0 870.2,710.0 871.9,710.0 873.5,537.0 875.1,652.0 876.8,710.0 878.4,710.0 880.0,624.0 881.6,652.0 883.2,710.0 884.9,710.0 886.5,683.0 888.1,652.0 889.8,710.0 891.4,624.0 893.0,710.0 894.6,710.0 896.2,710.0 897.9,683.0 899.5,743.0 901.1,624.0 902.8,743.0 904.4,537.0 906.0,624.0 907.6,683.0 909.2,508.0 910.9,683.0 912.5,652.0 914.1,683.0 915.8,624.0 917.4,451.0 919.0,594.0 920.6,537.0 922.2,624.0 923.9,508.0 925.5,710.0 927.1,624.0 928.8,683.0 930.4,652.0 932.0,624.0 933.6,710.0 935.2,710.0 936.9,683.0 938.5,743.0 940.1,710.0 941.8,710.0 943.4,743.0 945.0,652.0 946.6,683.0 948.2,652.0 949.9,652.0 951.5,683.0 953.1,652.0 954.8,683.0 956.4,652.0 958.0,727.0 959.6,652.0 961.2,727.0 962.9,624.0 964.5,683.0 966.1,683.0 967.8,624.0 969.4,652.0 971.0,652.0 972.6,683.0 974.2,652.0 975.9,652.0 977.5,652.0 979.1,710.0 980.8,566.0 982.4,743.0 984.0,652.0 985.6,743.0 987.2,683.0 988.9,652.0 990.5,624.0 992.1,710.0 993.8,652.0 995.4,652.0 997.0,710.0 998.6,710.0 1000.2,710.0 1001.9,683.0 1003.5,743.0 1005.1,652.0 1006.8,710.0 1008.4,683.0 1010.0,743.0 1011.6,743.0 1013.2,683.0 1014.9,743.0 1016.5,710.0 1018.1,710.0 1019.8,743.0 1021.4,743.0 1023.0,743.0 1024.6,683.0 1026.2,743.0 1027.9,743.0 1029.5,624.0 1031.1,652.0 1032.8,710.0 1034.4,652.0 1036.0,743.0 1037.6,683.0 1039.2,743.0 1040.9,652.0 1042.5,652.0 1044.1,727.0 1045.8,727.0 1047.4,743.0 1049.0,683.0 1050.6,566.0 1052.2,652.0 1053.9,710.0 1055.5,743.0 1057.1,743.0 1058.8,743.0 1060.4,594.0 1062.0,683.0 1063.6,743.0 1065.2,710.0 1066.9,710.0 1068.5,566.0 1070.1,683.0 1071.8,743.0 1073.4,710.0 1075.0,710.0 1076.6,710.0 1078.2,710.0 1079.9,566.0 1081.5,710.0 1083.1,743.0 1084.8,624.0 1086.4,743.0 1088.0,710.0 1089.6,652.0 1091.2,743.0 1092.9,743.0 1094.5,652.0 1096.1,743.0 1097.8,743.0 1099.4,683.0 1101.0,683.0 1102.6,710.0 1104.2,710.0 1105.9,710.0 1107.5,683.0 1109.1,683.0 1110.8,652.0 1112.4,652.0 1114.0,710.0 1115.6,594.0 1117.2,710.0 1118.9,683.0 1120.5,594.0 1122.1,652.0 1123.8,683.0 1125.4,710.0 1127.0,683.0 1128.6,683.0 1130.2,594.0 1131.9,652.0 1133.5,710.0 1135.1,683.0 1136.8,594.0 1138.4,727.0 1140.0,683.0 1141.6,594.0 1143.2,652.0 1144.9,652.0 1146.5,710.0 1148.1,683.0 1149.8,566.0 1151.4,743.0 1153.0,710.0 1154.6,743.0 1156.2,683.0 1157.9,710.0 1159.5,710.0 1161.1,683.0 1162.8,710.0 1164.5,683.0 1164.5,727.0 1164.5,727.0 1164.5,727.0 1165.5,727.0 1165.5,710.0 1166.5,710.0 1166.5,743.0 1167.5,743.0 1167.5,710.0 1168.5,710.0 1168.5,710.0 1168.5,710.0 1168.5,710.0 1169.5,710.0 1169.5,710.0 1170.5,710.0 1170.5,683.0 1171.5,683.0 1171.5,710.0 1172.5,710.0 1172.5,743.0 1172.5,743.0 1172.5,743.0 1173.5,743.0 1173.5,727.0 1174.5,727.0 1174.5,727.0 1175.5,727.0 1175.5,727.0 1176.5,727.0 1176.5,727.0 1177.5,727.0 1177.5,710.0 1177.5,710.0 1177.5,710.0 1178.5,710.0 1178.5,710.0 1179.5,710.0 1179.5,727.0 1180.5,727.0 1180.5,727.0 1181.5,727.0 1181.5,743.0 1181.5,743.0 1181.5,710.0 1182.5,710.0 1182.5,767.0 1183.5,767.0 1183.5,743.0 1184.5,743.0 1184.5,743.0 1185.5,743.0 1185.5,710.0 1186.5,710.0 1186.5,710.0 1186.5,710.0 1186.5,756.0 1187.5,756.0 1187.5,756.0 1188.5,756.0 1188.5,756.0 1189.5,756.0 1189.5,756.0 1190.5,756.0 1190.5,767.0 1190.5,767.0 1190.5,767.0 1191.5,767.0 1191.5,727.0 1192.5,727.0 1192.5,727.0 1193.5,727.0 1193.5,767.0 1194.5,767.0 1194.5,756.0 1194.5,756.0 1194.5,710.0 1195.5,710.0 1195.5,727.0 1196.5,727.0 1196.5,727.0 1197.5,727.0 1197.5,727.0 1198.5,727.0 1198.5,727.0 1198.5,727.0 1198.5,710.0 1199.5,710.0 1199.5,767.0 1200.5,767.0 1200.5,710.0 1201.5,710.0 1201.5,710.0 1202.5,710.0 1202.5,710.0 1203.5,710.0 1203.5,727.0 1203.5,727.0 1203.5,756.0 1204.5,756.0 1204.5,727.0 1205.5,727.0 1205.5,767.0 1206.5,767.0 1206.5,727.0 1207.5,727.0 1207.5,727.0 1207.5,727.0 1207.5,727.0 1208.5,727.0 1208.5,727.0 1209.5,727.0 1209.5,767.0 1210.5,767.0 1210.5,710.0 1211.5,710.0 1211.5,710.0 1212.5,710.0 1212.5,727.0 1212.5,727.0 1212.5,767.0 1213.5,767.0 1213.5,767.0 1214.5,767.0 1214.5,767.0 1215.5,767.0 1215.5,710.0 1216.5,710.0 1216.5,710.0 1216.5,710.0 1216.5,767.0 1217.5,767.0 1217.5,767.0 1218.5,767.0 1218.5,727.0 1219.5,727.0 1219.5,756.0 1220.5,756.0 1220.5,767.0 1220.5,767.0 1220.5,710.0 1221.5,710.0 1221.5,710.0 1222.5,710.0 1222.5,767.0 1223.5,767.0 1223.5,767.0 1224.5,767.0 1224.5,767.0 1224.5,767.0 1224.5,710.0 1225.5,710.0 1225.5,727.0 1226.5,727.0 1226.5,743.0 1227.5,743.0 1227.5,767.0 1228.5,767.0 1228.5,710.0 1229.5,710.0 1229.5,767.0 1229.5,767.0 1229.5,767.0 1230.5,767.0 1230.5,767.0 1231.5,767.0 1231.5,767.0 1232.5,767.0 1232.5,756.0 1233.5,756.0 1233.5,756.0 1233.5,756.0 1233.5,767.0 1234.5,767.0 1234.5,767.0 1235.5,767.0 1235.5,727.0 1236.5,727.0 1236.5,767.0 1237.5,767.0 1237.5,756.0 1238.5,756.0 1238.5,743.0 1238.5,743.0 1238.5,743.0 1239.5,743.0 1239.5,743.0 1240.5,743.0 1240.5,743.0 1241.5,743.0 1241.5,767.0 1242.5,767.0 1242.5,743.0 1242.5,743.0 1242.5,767.0 1243.5,767.0 1243.5,767.0 1244.5,767.0 1244.5,767.0 1245.5,767.0 1245.5,710.0 1246.5,710.0 1246.5,710.0 1246.5,710.0 1246.5,710.0 1247.5,710.0 1247.5,710.0 1248.5,710.0 1248.5,710.0 1249.5,710.0 1249.5,710.0 1250.5,710.0 1250.5,710.0 1250.5,710.0 1250.5,743.0 1251.5,743.0 1251.5,710.0 1252.5,710.0 1252.5,710.0 1253.5,710.0 1253.5,710.0 1254.5,710.0 1254.5,710.0 1255.5,710.0 1255.5,710.0 1255.5,710.0 1255.5,767.0 1256.5,767.0 1256.5,710.0 1257.5,710.0 1257.5,767.0 1258.5,767.0 1258.5,767.0 1259.5,767.0 1259.5,767.0 1259.5,767.0 1259.5,767.0 1260.5,767.0 1260.5,743.0 1261.5,743.0 1261.5,710.0 1262.5,710.0 1262.5,710.0 1263.5,710.0 1263.5,710.0 1264.5,710.0 1264.5,727.0 1264.5,727.0 1264.5,727.0 1265.5,727.0 1265.5,743.0 1266.5,743.0 1266.5,756.0 1267.5,756.0 1267.5,710.0 1268.5,710.0 1268.5,756.0 1268.5,756.0 1268.5,767.0 1269.5,767.0 1269.5,767.0 1270.5,767.0 1270.5,767.0 1271.5,767.0 1271.5,767.0 1272.5,767.0 1272.5,767.0 1272.5,767.0 1272.5,710.0 1273.5,710.0 1273.5,767.0 1274.5,767.0 1274.5,767.0 1275.5,767.0 1275.5,767.0 1276.5,767.0 1276.5,767.0 1276.5,767.0 1276.5,767.0 1277.5,767.0 1277.5,767.0 1278.5,767.0 1278.5,767.0 1279.5,767.0 1279.5,767.0 1280.5,767.0 1280.5,767.0 1281.5,767.0 1281.5,767.0 1281.5,767.0 1281.5,767.0 1282.5,767.0 1282.5,767.0 1283.5,767.0 1283.5,743.0 1284.5,743.0 1284.5,743.0 1285.5,743.0 1285.5,743.0 1285.5,743.0 1285.5,743.0 1286.5,743.0 1286.5,767.0 1287.5,767.0 1287.5,767.0 1288.5,767.0 1288.5,767.0 1289.5,767.0 1289.5,767.0 1290.5,767.0 1290.5,767.0 1290.5,767.0 1290.5,767.0 1291.5,767.0 1291.5,767.0 1292.5,767.0 1292.5,767.0 1293.5,767.0 1293.5,767.0 1294.5,767.0 1294.5,767.0 1294.5,767.0 1294.5,767.0 1295.5,767.0 1295.5,767.0 1296.5,767.0 1296.5,767.0 1297.5,767.0 1297.5,767.0 1298.5,767.0 1298.5,767.0 1298.5,767.0 1298.5,767.0 1299.5,767.0 1299.5,767.0 1300.5,767.0 1300.5,767.0 1301.5,767.0 1301.5,767.0 1302.5,767.0 1302.5,767.0 1302.5,767.0 1302.5,767.0 1303.5,767.0 1303.5,767.0 1304.5,767.0 1304.5,767.0 1305.5,767.0 1305.5,767.0 1306.5,767.0 1306.5,767.0 1307.5,767.0 1307.5,767.0 1307.5,767.0 1307.5,767.0 1308.5,767.0 1308.5,767.0 1309.5,767.0 1309.5,767.0 1310.5,767.0 1310.5,767.0 1311.5,767.0 1311.5,767.0 1311.5,767.0 1311.5,756.0 1312.5,756.0 1312.5,756.0 1313.5,756.0 1313.5,727.0 1314.5,727.0 1314.5,727.0 1315.5,727.0 1315.5,727.0 1316.5,727.0 1316.5,727.0 1316.5,727.0 1316.5,756.0 1317.5,756.0 1317.5,756.0 1318.5,756.0 1318.5,767.0 1319.5,767.0 1319.5,767.0 1320.5,767.0 1320.5,767.0 1320.5,767.0 1320.5,767.0 1321.5,767.0 1321.5,767.0 1319.5,767.0" fill="none" stroke="#8000FF" stroke-width="1"/>
<rect x="151" y="607" width="1170" height="2" fill="#000"/>
<polyline points="152.0,743.5 154.4,710.5 157.0,710.5 158.0,729.5 159.5,710.5 161.0,710.5 162.0,743.5 163.6,743.5 171.0,743.5 173.5,710.5 181.0,710.5 182.0,737.5 183.0,710.5 189.5,710.5 191.5,683.5 194.5,683.5 197.0,743.5 200.6,743.5 203.0,683.5 208.0,683.5 210.5,710.5 214.0,710.5 216.0,729.5 218.0,710.5 222.0,710.5 224.0,743.5 225.0,710.5 229.0,710.5 231.0,683.5 239.0,683.5 240.5,690.5 242.0,683.5 249.0,683.5 251.0,710.5 257.0,710.5 257.8,727.5 258.7,710.5 260.0,683.5 268.6,683.5 270.0,710.5 276.0,710.5 277.5,743.5 283.0,743.5 284.7,767.0 286.5,743.5 290.0,743.5 292.0,710.5 300.7,710.5 302.0,683.5 313.0,683.5 314.5,710.5 321.7,710.5 323.0,683.5 333.0,683.5 334.5,710.5 337.8,710.5 339.0,683.5 344.0,683.5 345.0,652.0 346.0,683.5 347.7,710.5 354.0,710.5 355.5,683.5 362.5,683.5 364.0,710.5 368.0,710.5 369.0,735.5 370.0,710.5 381.0,710.5 382.5,683.5 389.7,683.5 390.5,692.5 391.5,683.5 405.7,683.5 407.0,652.0 423.0,652.0 425.0,683.5 428.0,683.5 429.5,710.5 431.0,683.5 439.0,683.5 441.0,743.5 468.3,743.5 470.0,767.0 471.4,743.5 487.0,743.5 489.0,710.5 492.4,710.5 494.5,743.5 496.0,743.5 497.6,710.5 530.0,710.5 531.5,743.5 546.8,743.5 549.0,710.5 556.3,710.5 558.0,683.5 562.6,683.5 563.5,652.0 568.8,652.0 570.0,683.5 574.0,683.5 575.0,652.0 583.5,652.0 585.0,683.5 590.8,683.5 592.0,710.5 594.0,683.5 600.3,683.5 601.5,652.0 605.5,652.0 606.5,683.5 607.6,652.0 610.8,652.0 612.0,683.5 617.0,683.5 618.5,710.5 625.4,710.5 626.5,683.5 628.0,710.5 629.6,683.5 639.0,683.5 640.5,710.5 649.5,710.5 650.5,683.5 651.6,710.5 655.8,710.5 657.5,743.5 660.0,743.5 662.0,710.5 669.4,710.5 670.0,743.5 670.5,710.5 678.8,710.5 680.5,683.5 687.2,683.5 688.5,710.5 694.5,710.5 696.0,743.5 703.0,743.5 704.5,710.5 707.0,710.5 709.2,683.5 714.5,683.5 716.0,710.5 721.8,710.5 723.0,683.5 728.0,683.5 729.5,710.5 737.5,710.5 739.0,683.5 745.5,683.5 747.5,743.5 753.9,743.5 756.0,710.5 781.0,710.5 784.2,683.5 785.0,683.5 787.0,743.5 795.8,743.5 798.0,710.5 805.2,710.5 806.5,683.5 808.0,710.5 809.4,683.5 811.0,710.5 819.9,710.5 821.0,683.5 825.0,683.5 826.5,710.5 831.4,710.5 833.5,683.5 841.8,683.5 843.0,710.5 846.0,743.5 848.0,710.5 850.2,710.5 851.5,683.5 860.7,683.5 862.0,710.5 873.3,710.5 875.4,683.5 894.2,683.5 895.5,710.5 907.8,710.5 909.0,683.5 912.0,683.5 914.0,710.5 916.0,683.5 925.7,683.5 927.5,710.5 929.8,683.5 939.3,683.5 940.5,710.5 944.5,710.5 946.0,743.5 959.2,743.5 960.5,710.5 961.5,743.5 972.8,743.5 974.0,720.5 975.0,743.5 976.0,710.5 989.6,710.5 991.0,743.5 992.7,710.5 1005.3,710.5 1006.5,743.5 1007.4,710.5 1013.6,710.5 1015.0,743.5 1016.8,710.5 1021.5,710.5 1023.0,683.5 1026.0,683.5 1027.0,710.5 1032.0,710.5 1033.5,743.5 1059.8,743.5 1061.2,710.5 1076.0,710.5 1077.0,743.5 1078.2,710.5 1089.5,710.5 1091.0,700.5 1092.4,710.5 1096.6,710.5 1099.5,743.5 1104.4,743.5 1107.3,710.5 1111.5,710.5 1113.0,735.5 1114.0,710.5 1116.5,743.5 1118.0,710.5 1119.0,743.5 1124.3,743.5 1127.8,710.5 1130.0,710.5 1131.5,685.5 1132.5,710.5 1147.6,710.5 1150.0,743.5 1151.0,725.5 1153.3,743.5 1159.0,743.5 1160.0,753.5 1161.0,743.5 1166.0,743.5 1167.5,753.5 1168.5,743.5 1169.5,753.5 1170.5,743.5 1178.0,743.5 1180.2,767.0 1320.0,767.0" fill="none" stroke="#000" stroke-width="1"/>
<polyline points="151.0,255.1 151.0,255.0 154.0,255.2 157.0,255.2 157.0,255.0 160.0,255.8 163.0,256.1 166.0,256.6 168.0,256.6 169.0,256.2 172.0,256.6 175.0,257.0 178.0,256.7 180.0,256.6 181.0,256.7 184.0,255.6 187.0,255.4 190.0,254.7 193.0,254.4 195.0,254.0 196.0,254.1 199.0,253.6 202.0,253.8 205.0,253.8 205.0,254.0 208.0,254.9 210.0,255.0 211.0,255.0 214.0,254.1 216.0,254.0 217.0,254.2 220.0,253.7 222.0,254.0 223.0,254.2 226.0,254.0 229.0,254.1 232.0,255.1 235.0,254.8 235.0,255.0 238.0,255.5 241.0,256.8 242.0,256.6 244.0,256.9 247.0,256.4 250.0,257.0 253.0,256.6 253.0,256.6 256.0,256.1 259.0,255.0 260.0,255.0 262.0,255.4 265.0,255.2 268.0,255.4 271.0,255.3 274.0,254.8 277.0,254.9 280.0,254.7 283.0,254.7 286.0,254.7 289.0,254.8 292.0,255.1 295.0,254.6 298.0,255.1 300.0,255.0 301.0,254.8 304.0,254.8 307.0,255.1 310.0,254.8 313.0,254.6 316.0,254.6 319.0,254.7 322.0,254.2 325.0,254.8 328.0,254.0 331.0,254.5 334.0,254.5 337.0,253.8 340.0,254.3 343.0,253.9 346.0,254.0 349.0,253.5 352.0,253.5 355.0,253.5 358.0,254.1 361.0,253.4 364.0,253.8 367.0,253.9 370.0,253.8 373.0,253.3 376.0,253.2 379.0,253.3 382.0,253.4 385.0,252.8 388.0,253.2 390.0,253.0 391.0,253.2 394.0,253.1 397.0,252.4 400.0,253.0 403.0,252.2 406.0,252.3 409.0,252.4 412.0,252.5 415.0,251.9 418.0,252.3 421.0,251.8 424.0,251.5 427.0,251.4 430.0,251.2 433.0,251.0 436.0,251.0 439.0,251.3 442.0,251.4 442.2,251.0 445.0,250.6 448.0,250.4 451.0,251.0 454.0,250.5 457.0,250.3 460.0,250.1 463.0,250.2 466.0,250.3 469.0,249.9 472.0,249.7 475.0,249.3 478.0,249.9 481.0,249.0 484.0,249.3 487.0,249.4 490.0,248.7 490.5,249.0 493.0,249.0 496.0,249.0 499.0,248.5 502.0,248.4 505.0,247.7 508.0,247.7 511.0,247.3 514.0,247.6 517.0,247.0 517.6,247.1 520.0,247.2 523.0,247.8 526.0,247.8 529.0,248.0 532.0,247.8 535.0,247.9 538.0,248.3 541.0,248.2 544.0,248.2 547.0,248.5 550.0,248.4 553.0,248.7 556.0,249.4 556.3,249.0 559.0,248.9 562.0,248.2 565.0,247.6 568.0,247.1 571.0,246.4 574.0,246.1 575.6,246.0 577.0,246.2 580.0,246.2 583.0,245.8 586.0,246.0 589.0,246.0 592.0,245.9 595.0,245.8 598.0,245.8 601.0,245.5 604.0,245.7 607.0,245.3 610.0,245.4 613.0,245.6 616.0,245.5 619.0,245.1 622.0,245.6 622.0,245.2 625.0,245.3 628.0,245.1 631.0,244.6 634.0,245.0 637.0,244.7 640.0,245.0 643.0,244.7 646.0,245.0 649.0,244.8 652.0,244.8 655.0,244.4 658.0,244.6 660.7,244.4 661.0,244.6 664.0,244.6 667.0,244.1 670.0,244.4 673.0,244.3 676.0,244.1 679.0,244.3 682.0,244.2 685.0,243.7 688.0,243.6 691.0,243.3 694.0,243.7 697.0,243.7 699.4,243.3 700.0,243.3 703.0,243.3 706.0,243.3 709.0,243.2 712.0,242.6 715.0,243.0 718.0,242.8 721.0,242.8 724.0,242.5 727.0,242.5 730.0,242.6 733.0,242.4 736.0,242.3 738.0,242.1 739.0,241.7 742.0,241.8 745.0,242.0 748.0,242.1 750.0,242.0 751.0,241.9 754.0,242.6 757.0,242.9 760.0,242.7 763.0,243.4 766.0,243.5 769.0,243.7 772.0,244.1 775.0,244.6 778.0,244.8 781.0,245.2 784.0,245.4 786.4,246.0 787.0,246.0 790.0,246.2 793.0,246.6 796.0,246.8 799.0,246.7 802.0,247.5 805.0,247.0 808.0,247.5 811.0,247.7 814.0,248.0 817.0,248.0 817.3,248.3 820.0,248.5 823.0,248.0 826.0,247.7 829.0,248.0 832.0,247.5 835.0,247.8 838.0,247.5 841.0,247.6 844.0,247.8 847.0,247.6 850.0,247.2 853.0,247.4 856.0,247.2 856.0,247.1 859.0,247.2 862.0,247.2 865.0,247.8 868.0,248.0 871.0,248.5 874.0,248.7 877.0,248.7 880.0,248.7 883.0,249.3 883.1,249.0 886.0,248.9 889.0,249.3 892.0,250.0 895.0,250.3 898.0,250.3 901.0,251.0 904.0,251.5 907.0,251.4 910.0,251.7 913.0,251.9 914.0,252.2 916.0,252.0 919.0,252.6 922.0,252.1 925.0,252.6 928.0,252.5 931.0,252.3 934.0,252.0 937.0,252.6 940.0,252.2 943.0,252.1 946.0,252.1 949.0,252.6 952.0,252.2 952.7,252.2 955.0,252.1 958.0,252.3 961.0,252.1 964.0,252.6 967.0,252.5 970.0,252.5 973.0,253.0 976.0,253.1 979.0,252.5 981.7,253.0 982.0,253.0 985.0,252.5 988.0,252.7 991.0,252.2 994.0,251.5 997.0,251.2 1000.0,250.8 1003.0,251.1 1006.0,250.2 1009.0,250.2 1010.7,249.9 1012.0,249.9 1015.0,250.2 1018.0,250.3 1021.0,250.5 1024.0,250.1 1027.0,250.8 1030.0,250.5 1033.0,250.8 1036.0,250.8 1039.0,250.9 1042.0,251.2 1045.0,251.3 1048.0,251.3 1051.0,251.7 1054.0,251.7 1057.0,251.4 1057.0,251.8 1060.0,251.5 1063.0,251.5 1066.0,251.8 1069.0,251.7 1072.0,251.3 1075.0,250.7 1078.0,251.2 1081.0,250.8 1084.0,250.8 1087.0,250.8 1090.0,250.7 1093.0,250.4 1096.0,250.7 1099.0,250.1 1099.6,250.2 1102.0,249.8 1105.0,249.9 1108.0,249.0 1111.0,248.7 1114.0,248.8 1117.0,247.9 1120.0,248.1 1123.0,247.7 1125.8,247.2 1126.0,247.1 1129.0,246.4 1132.0,246.3 1135.0,245.8 1138.0,244.6 1141.0,244.3 1144.0,243.8 1147.0,243.2 1150.0,242.5 1153.0,241.8 1156.0,241.6 1156.7,241.4 1159.0,241.2 1162.0,240.0 1165.0,239.5 1168.0,239.4 1171.0,238.8 1174.0,238.1 1177.0,237.0 1180.0,237.0 1183.0,236.6 1186.0,236.0 1189.0,235.2 1191.5,234.5 1192.0,234.1 1195.0,234.3 1198.0,233.5 1201.0,233.4 1204.0,233.3 1207.0,232.7 1210.0,231.9 1213.0,231.6 1216.0,231.8 1219.0,230.8 1222.0,230.8 1222.5,230.6 1225.0,230.3 1228.0,229.8 1231.0,230.0 1234.0,229.2 1237.0,229.0 1240.0,229.0 1243.0,228.5 1246.0,228.2 1249.0,228.3 1252.0,228.2 1253.4,227.9 1255.0,228.1 1258.0,227.4 1261.0,227.5 1264.0,227.2 1267.0,227.3 1270.0,227.0 1273.0,227.2 1276.0,226.6 1276.6,226.7 1279.0,226.3 1282.0,226.7 1285.0,226.2 1288.0,226.5 1291.0,226.3 1294.0,226.5 1297.0,226.1 1299.8,226.0 1300.0,226.1 1303.0,225.7 1306.0,225.8 1309.0,225.4 1312.0,225.7 1315.0,225.4 1318.0,225.0 1320.3,225.2" fill="none" stroke="#00F040" stroke-width="2"/>
<polyline points="151.0,570.1 151.0,569.0 153.0,570.2 155.0,568.2 157.0,568.4 159.0,570.4 161.0,570.3 163.0,570.3 165.0,569.5 167.0,570.4 169.0,570.5 171.0,570.6 173.0,569.7 175.0,570.5 177.0,570.6 179.0,571.5 181.0,572.3 183.0,572.4 185.0,571.5 187.0,571.4 189.0,571.1 191.0,570.7 193.0,570.9 195.0,572.0 197.0,571.8 199.0,572.1 201.0,573.5 203.0,572.8 205.0,573.0 207.0,572.3 209.0,572.0 211.0,572.8 213.0,572.5 215.0,573.6 217.0,574.9 219.0,574.3 221.0,573.2 223.0,575.1 225.0,575.0 227.0,575.0 227.0,574.4 229.0,575.5 231.0,575.2 233.0,575.4 235.0,574.4 237.0,576.0 239.0,576.1 241.0,574.2 243.0,575.8 245.0,575.8 247.0,575.2 249.0,575.5 251.0,575.5 253.0,576.6 255.0,575.7 257.0,576.6 259.0,575.5 261.0,576.9 263.0,577.0 265.0,576.1 267.0,576.4 269.0,577.4 271.0,577.0 273.0,576.5 275.0,576.0 277.0,576.3 279.0,577.3 281.0,576.1 283.0,578.0 285.0,576.5 287.0,578.2 289.0,576.8 291.0,578.5 293.0,578.0 295.0,577.6 297.0,577.7 299.0,578.1 301.0,578.0 303.0,577.5 304.6,578.0 305.0,577.3 307.0,578.2 309.0,579.4 311.0,578.9 313.0,577.7 315.0,579.7 317.0,579.7 319.0,580.3 321.0,578.7 323.0,580.3 325.0,578.8 327.0,580.4 329.0,579.7 331.0,579.7 333.0,581.5 335.0,579.8 337.0,581.0 339.0,582.0 341.0,580.7 343.0,580.8 345.0,582.6 347.0,581.6 349.0,582.5 351.0,581.1 353.0,582.0 355.0,581.8 357.0,583.2 359.0,581.9 361.0,584.2 363.0,582.1 365.0,584.0 367.0,582.5 369.0,583.2 371.0,584.8 373.0,583.4 375.0,583.6 377.0,585.0 379.0,584.5 381.0,583.8 382.0,585.0 383.0,586.1 385.0,583.8 387.0,583.3 389.0,583.8 390.0,584.0 391.0,584.5 393.0,585.2 395.0,584.1 397.0,585.0 399.0,584.6 401.0,586.0 403.0,587.2 405.0,587.5 407.0,588.3 409.0,588.4 409.3,587.8 411.0,588.9 413.0,588.8 415.0,588.5 417.0,588.1 419.0,589.4 421.0,588.8 423.0,588.6 425.0,589.6 427.0,590.9 429.0,589.4 431.0,590.7 433.0,590.5 435.0,591.1 437.0,590.4 439.0,592.6 440.3,591.7 441.0,591.2 443.0,592.1 445.0,591.8 447.0,590.9 449.0,592.3 451.0,591.4 453.0,591.3 455.0,591.4 457.0,591.8 459.0,591.8 461.0,593.2 463.0,593.0 465.0,594.2 467.0,594.2 469.0,594.5 471.0,592.7 473.0,593.4 475.0,593.0 475.0,593.6 477.0,593.5 479.0,593.3 481.0,593.5 483.0,593.0 485.0,591.6 487.0,591.7 489.0,591.6 491.0,590.1 493.0,589.9 495.0,590.5 497.0,589.5 499.0,590.7 501.0,589.2 502.1,589.7 503.0,588.5 505.0,588.2 507.0,587.9 509.0,587.3 511.0,587.6 513.0,586.9 515.0,586.1 517.0,586.4 519.0,584.9 521.0,586.0 523.0,585.7 525.0,584.6 525.3,584.0 527.0,583.1 529.0,582.4 531.0,581.7 533.0,579.6 535.0,579.6 537.0,579.0 539.0,577.3 541.0,576.2 543.0,577.1 545.0,575.2 547.0,574.7 549.0,574.8 551.0,573.2 552.4,572.3 553.0,571.7 555.0,573.1 557.0,571.3 559.0,570.2 561.0,571.8 563.0,569.4 565.0,569.8 567.0,571.5 569.0,570.6 571.0,567.9 573.0,569.2 575.0,568.8 577.0,568.8 579.0,567.5 579.5,568.5 581.0,568.4 583.0,566.1 585.0,566.3 587.0,566.2 589.0,567.7 591.0,564.1 593.0,566.0 595.0,563.5 597.0,564.4 599.0,563.2 601.0,563.0 602.7,562.7 603.0,563.5 605.0,561.3 607.0,559.4 609.0,558.6 611.0,557.5 613.0,559.4 615.0,557.8 617.0,558.1 619.0,556.2 621.0,552.9 622.0,554.2 623.0,555.0 625.0,555.8 627.0,556.0 629.0,555.6 631.0,555.5 633.0,556.2 635.0,557.9 637.0,556.3 639.0,557.7 641.0,557.9 643.0,560.0 645.0,559.9 645.2,558.8 647.0,559.7 649.0,558.6 651.0,555.9 653.0,554.9 655.0,555.1 657.0,553.5 659.0,553.4 660.7,553.0 661.0,553.6 663.0,554.5 665.0,553.3 667.0,554.1 669.0,551.5 671.0,552.5 673.0,554.8 675.0,551.7 677.0,552.7 679.0,551.4 681.0,551.5 683.0,554.4 685.0,554.8 687.0,553.5 687.8,553.0 689.0,550.1 691.0,547.4 693.0,544.3 695.0,544.5 697.0,541.9 699.0,537.6 699.4,537.5 701.0,536.7 703.0,532.8 705.0,534.4 707.0,535.9 709.0,533.5 711.0,527.9 713.0,529.5 715.0,529.6 717.0,525.4 718.7,526.0 719.0,528.8 721.0,527.3 723.0,530.2 725.0,529.5 727.0,534.8 729.0,534.7 730.3,533.7 731.0,532.4 733.0,524.6 735.0,521.5 737.0,513.7 739.0,512.4 740.0,509.3 741.0,514.6 743.0,515.4 745.0,523.1 747.0,528.4 749.0,533.3 749.6,535.6 751.0,535.0 753.0,533.7 755.0,529.4 757.0,525.0 759.0,525.5 759.3,522.0 761.0,521.5 763.0,525.1 765.0,525.3 767.0,526.7 767.0,525.0 769.0,524.6 771.0,517.8 773.0,517.7 775.0,513.6 777.0,512.7 778.7,509.3 779.0,512.9 781.0,513.5 783.0,512.3 785.0,518.1 787.0,522.6 789.0,526.7 790.3,526.0 791.0,525.6 793.0,522.7 795.0,513.4 797.0,515.4 798.0,510.5 799.0,512.8 801.0,513.6 803.0,517.1 805.0,518.6 807.0,515.0 807.7,518.2 809.0,517.5 811.0,512.9 813.0,504.9 815.0,504.2 817.0,498.9 817.3,497.7 819.0,497.1 821.0,502.8 823.0,500.0 825.0,504.8 827.0,505.3 829.0,505.7 831.0,509.4 832.8,510.5 833.0,510.2 835.0,507.7 837.0,512.0 839.0,505.4 841.0,504.2 843.0,506.6 845.0,508.2 847.0,506.2 848.3,504.7 849.0,506.2 851.0,503.8 853.0,504.4 855.0,501.6 857.0,500.5 859.0,501.5 861.0,497.7 863.0,497.4 863.7,500.0 865.0,502.0 867.0,498.6 869.0,502.9 871.0,503.6 873.0,501.5 875.0,503.8 875.3,502.7 877.0,506.0 879.0,508.2 881.0,505.0 883.0,506.9 885.0,510.0 887.0,512.2 887.0,512.4 889.0,510.3 891.0,507.7 893.0,510.5 895.0,512.5 897.0,507.8 899.0,508.1 901.0,506.4 902.4,506.6 903.0,506.1 905.0,508.6 907.0,504.6 909.0,506.5 911.0,505.1 913.0,505.1 914.0,504.7 915.0,507.3 917.0,501.5 919.0,506.2 921.0,502.5 923.0,504.5 925.0,505.2 927.0,504.0 929.0,502.1 929.5,502.7 931.0,505.9 933.0,502.1 935.0,506.9 937.0,506.5 939.0,508.6 941.0,511.9 943.0,512.8 945.0,512.9 947.0,512.0 948.8,514.3 949.0,512.5 951.0,513.5 953.0,511.5 955.0,511.3 957.0,515.3 959.0,509.2 961.0,513.4 963.0,510.0 964.3,510.5 965.0,509.7 967.0,509.8 969.0,508.5 971.0,511.4 973.0,509.8 975.0,512.0 977.0,511.3 979.0,515.7 979.8,513.2 981.0,517.0 983.0,515.6 985.0,518.7 987.0,522.4 987.5,520.0 989.0,518.9 991.0,517.4 993.0,518.3 995.0,518.0 997.0,521.2 999.0,519.2 1001.0,519.5 1003.0,521.1 1005.0,519.0 1007.0,521.1 1009.0,520.5 1010.7,520.0 1011.0,519.7 1013.0,521.4 1015.0,519.9 1017.0,522.0 1019.0,522.4 1021.0,521.1 1023.0,522.0 1025.0,523.1 1027.0,522.6 1029.0,522.8 1030.0,522.0 1031.0,522.6 1033.0,521.4 1035.0,519.2 1037.0,518.6 1039.0,514.6 1041.0,514.3 1043.0,513.0 1045.0,510.5 1047.0,509.1 1049.0,506.8 1049.3,507.8 1051.0,509.9 1053.0,508.2 1055.0,509.1 1057.0,511.1 1059.0,509.0 1061.0,512.3 1063.0,509.8 1064.8,511.6 1065.0,510.1 1067.0,513.0 1069.0,514.9 1071.0,518.7 1073.0,520.3 1075.0,521.7 1076.4,522.0 1077.0,522.0 1079.0,523.2 1081.0,522.8 1083.0,525.8 1085.0,524.9 1087.0,525.3 1089.0,527.4 1091.0,526.4 1093.0,527.8 1095.0,530.7 1097.0,528.5 1099.0,529.5 1099.6,531.0 1101.0,530.2 1103.0,530.8 1105.0,531.9 1107.0,531.7 1109.0,532.4 1111.0,532.5 1113.0,532.9 1115.0,534.7 1117.0,534.1 1118.0,534.9 1119.0,534.9 1121.0,537.1 1123.0,535.5 1125.0,536.6 1127.0,540.0 1129.0,539.3 1131.0,541.4 1133.0,540.0 1133.5,541.5 1135.0,542.3 1137.0,544.5 1139.0,543.6 1141.0,546.2 1143.0,546.6 1145.0,546.8 1147.0,550.0 1149.0,548.8 1149.0,549.2 1151.0,545.6 1153.0,542.3 1155.0,538.4 1156.7,535.6 1157.0,535.5 1159.0,532.0 1161.0,528.8 1163.0,525.6 1164.4,523.3 1165.0,523.7 1167.0,523.2 1169.0,522.5 1171.0,521.5 1173.0,520.9 1175.0,520.5 1176.0,520.2 1177.0,520.0 1179.0,520.6 1181.0,522.3 1183.0,521.8 1185.0,523.4 1187.0,523.7 1189.0,524.6 1191.0,524.1 1191.5,524.8 1193.0,525.1 1195.0,526.5 1197.0,526.3 1199.0,527.2 1201.0,528.3 1203.0,528.8 1205.0,529.6 1207.0,530.9 1209.0,531.0 1211.0,532.8 1213.0,533.2 1214.7,533.7 1215.0,533.3 1217.0,535.1 1219.0,535.2 1221.0,536.3 1223.0,537.2 1225.0,537.6 1227.0,538.8 1229.0,539.1 1231.0,540.1 1233.0,541.8 1235.0,542.5 1237.0,543.0 1238.0,543.4 1239.0,544.0 1241.0,545.1 1243.0,545.0 1245.0,546.3 1247.0,546.7 1249.0,547.5 1251.0,548.3 1253.0,549.3 1255.0,549.9 1257.0,550.9 1259.0,551.9 1261.0,553.1 1261.2,553.0 1263.0,553.9 1265.0,554.6 1267.0,554.9 1269.0,555.2 1271.0,556.3 1273.0,556.0 1275.0,556.5 1277.0,557.9 1279.0,558.2 1281.0,558.3 1283.0,559.1 1284.4,559.6 1285.0,559.6 1287.0,560.5 1289.0,561.2 1291.0,561.9 1293.0,563.1 1295.0,563.8 1297.0,564.2 1299.0,564.9 1301.0,565.4 1303.0,566.7 1303.7,566.6 1305.0,567.5 1307.0,567.2 1309.0,568.3 1311.0,568.9 1313.0,569.4 1315.0,569.2 1317.0,570.3 1319.0,570.5 1320.3,571.2" fill="none" stroke="#008040" stroke-width="2"/>
<polyline points="151.0,336.1 151.0,337.0 153.0,338.3 155.0,338.6 155.0,338.0 157.0,335.4 159.0,334.0 160.0,333.0 161.0,332.8 163.0,333.1 165.0,333.3 166.0,332.5 167.0,332.2 169.0,333.2 170.0,335.0 171.0,336.0 173.0,335.4 175.0,336.6 175.0,336.0 177.0,334.8 179.0,335.9 181.0,336.5 183.0,335.3 185.0,337.1 187.0,337.0 187.0,336.0 189.0,334.9 191.0,334.9 193.0,336.1 193.0,336.0 195.0,334.6 197.0,330.7 197.0,331.0 199.0,329.5 201.0,329.2 201.5,329.2 203.0,327.7 205.0,327.6 207.0,327.6 208.0,327.5 209.0,326.7 211.0,324.5 213.0,322.9 215.0,321.3 215.0,322.0 217.0,320.3 219.0,318.3 220.0,318.0 221.0,315.6 223.0,315.0 224.7,312.0 225.0,311.8 227.0,309.4 229.0,305.8 229.4,306.0 231.0,308.9 233.0,310.8 235.0,311.2 237.0,313.9 237.6,315.0 239.0,316.5 241.0,317.8 243.0,319.7 245.0,319.8 245.0,320.0 247.0,324.0 249.0,326.8 249.2,326.7 251.0,325.2 253.0,324.7 255.0,324.3 257.0,323.0 258.2,321.5 259.0,321.3 261.0,321.0 263.0,319.2 265.0,319.2 267.0,320.1 268.6,319.0 269.0,318.5 271.0,316.6 273.0,316.1 275.0,315.2 276.3,313.8 277.0,313.9 279.0,312.2 281.0,311.5 283.0,310.7 285.0,310.4 287.0,308.9 289.0,307.6 289.2,307.8 291.0,307.6 293.0,306.2 295.0,306.1 297.0,307.4 298.2,306.8 299.0,308.7 301.0,309.5 303.0,310.8 304.6,312.5 305.0,312.1 307.0,315.1 309.0,318.4 311.0,320.0 311.0,319.4 313.0,318.0 315.0,317.2 317.0,314.2 317.5,314.5 319.0,314.4 321.0,315.2 323.0,314.0 325.0,313.5 327.0,312.8 329.0,313.3 330.4,313.0 331.0,313.9 333.0,311.1 335.0,312.3 337.0,311.8 339.0,311.4 340.7,310.0 341.0,310.7 343.0,311.5 345.0,311.4 347.0,312.2 348.5,312.5 349.0,311.8 351.0,308.9 353.0,308.9 355.0,306.2 357.0,303.3 358.8,302.2 359.0,302.0 361.0,300.2 363.0,298.2 365.0,296.4 367.0,295.1 369.0,293.5 369.0,293.2 371.0,291.8 373.0,289.7 374.2,288.8 375.0,287.9 377.0,288.9 379.0,289.4 381.0,290.9 382.0,291.0 383.0,291.5 385.0,290.7 387.0,290.0 387.0,289.3 389.0,285.9 390.0,283.0 391.0,281.7 393.0,281.5 395.0,279.6 397.0,276.7 399.0,275.0 401.0,273.5 401.6,274.2 403.0,276.2 405.0,277.0 407.0,278.7 409.0,282.0 409.3,282.0 411.0,284.2 413.0,286.5 415.0,289.8 417.0,293.7 417.0,293.6 419.0,289.5 421.0,286.4 423.0,284.2 425.0,280.2 427.0,276.6 428.7,274.2 429.0,273.6 431.0,269.3 433.0,266.9 435.0,263.7 437.0,259.9 439.0,256.4 441.0,255.0 443.0,250.8 444.1,249.0 445.0,247.3 447.0,246.0 449.0,244.2 451.0,240.0 453.0,237.8 455.0,235.8 457.0,234.9 457.7,233.6 459.0,231.6 461.0,231.2 463.0,229.3 465.0,227.3 467.0,224.7 469.0,224.8 471.0,222.6 473.0,220.1 473.1,220.0 475.0,219.5 477.0,220.8 479.0,220.4 481.0,221.0 483.0,220.6 485.0,221.5 487.0,220.4 489.0,221.2 491.0,223.0 492.5,222.0 493.0,223.4 495.0,224.0 497.0,227.4 499.0,228.0 501.0,231.6 503.0,233.1 505.0,234.3 506.0,235.5 507.0,235.6 509.0,236.3 511.0,239.8 513.0,239.1 515.0,242.3 517.0,244.0 517.6,243.3 519.0,245.0 521.0,246.2 523.0,250.0 525.0,252.4 527.0,253.9 527.3,253.7 529.0,251.5 531.0,248.7 533.0,246.0 533.0,246.4 535.0,245.6 537.0,246.6 539.0,246.0 541.0,245.3 541.6,246.0 543.0,246.7 545.0,250.5 547.0,252.1 549.0,255.0 550.5,256.8 551.0,258.9 553.0,270.3 555.0,280.4 557.0,288.3 558.2,295.5 559.0,297.2 561.0,303.5 563.0,311.0 565.0,316.5 567.0,321.4 567.9,324.5 569.0,326.7 571.0,333.0 573.0,338.5 575.0,344.0 577.0,347.7 579.0,354.2 579.5,354.6 581.0,356.1 583.0,357.1 585.0,359.8 587.0,359.4 589.0,362.1 591.0,362.0 591.0,363.0 593.0,364.6 595.0,368.9 597.0,369.6 599.0,373.4 600.7,374.8 601.0,375.3 603.0,377.7 605.0,378.4 607.0,380.1 609.0,381.8 610.4,383.6 611.0,384.2 613.0,382.8 615.0,382.9 617.0,382.0 618.1,380.6 619.0,380.8 621.0,384.3 623.0,385.7 625.0,388.0 625.9,390.2 627.0,390.1 629.0,393.7 631.0,395.2 633.0,397.0 635.0,397.5 637.0,399.9 637.5,400.0 639.0,403.8 641.0,407.1 641.3,408.0 643.0,412.4 645.0,416.5 645.2,417.7 647.0,418.5 649.0,420.9 651.0,424.4 653.0,425.7 655.0,428.5 656.8,429.3 657.0,429.6 659.0,433.1 661.0,439.5 663.0,443.7 664.6,444.7 665.0,441.4 667.0,445.2 669.0,440.9 671.0,440.6 672.3,442.8 673.0,445.6 675.0,440.7 677.0,442.7 679.0,448.3 681.0,445.2 683.0,443.9 683.9,446.7 685.0,443.1 687.0,441.1 689.0,441.9 691.0,435.1 691.6,437.0 693.0,441.5 695.0,440.4 697.0,446.8 699.0,448.9 699.4,446.7 701.0,446.1 703.0,446.9 705.0,449.3 707.0,447.9 709.0,452.5 711.0,449.5 711.0,452.5 713.0,451.6 715.0,460.3 717.0,458.1 719.0,462.4 721.0,463.8 722.6,466.0 723.0,465.4 725.0,466.7 727.0,475.4 729.0,478.7 730.3,477.6 731.0,478.8 733.0,467.6 735.0,462.9 736.0,462.0 737.0,458.6 739.0,452.8 741.0,441.6 741.1,440.9 743.0,454.6 745.0,467.6 745.8,471.8 747.0,470.8 749.0,473.7 749.6,473.7 751.0,464.2 751.6,462.0 753.0,460.0 755.0,458.4 757.0,459.3 759.0,463.5 759.3,460.2 761.0,461.6 763.0,464.9 765.0,466.8 765.1,466.0 767.0,468.3 769.0,464.0 771.0,462.7 771.0,464.0 773.0,462.3 775.0,461.8 777.0,464.7 778.7,462.0 779.0,465.5 781.0,467.7 783.0,473.9 785.0,481.4 786.4,485.3 787.0,484.6 789.0,480.7 791.0,474.4 793.0,468.9 795.0,466.3 797.0,461.2 798.0,462.0 799.0,464.1 801.0,464.6 803.0,468.2 805.0,475.5 807.0,476.9 807.7,479.5 809.0,477.2 811.0,468.7 813.0,464.6 815.0,453.4 815.4,454.4 817.0,458.8 819.0,466.3 821.0,467.1 823.0,478.4 823.1,475.7 825.0,475.8 827.0,482.2 829.0,486.0 831.0,487.3 832.8,487.3 833.0,486.0 835.0,483.6 837.0,485.3 839.0,487.0 841.0,481.8 843.0,484.8 844.4,481.5 845.0,479.2 847.0,484.6 849.0,479.2 851.0,481.4 853.0,485.6 855.0,485.2 856.0,483.4 857.0,485.1 859.0,482.6 861.0,480.0 863.0,477.7 863.7,475.7 865.0,475.1 867.0,479.2 869.0,479.8 871.0,485.8 873.0,487.9 873.4,487.3 875.0,486.1 877.0,485.4 879.0,491.9 881.0,491.5 883.0,490.3 885.0,490.8 887.0,493.4 887.0,491.1 889.0,490.5 891.0,489.9 893.0,489.3 895.0,488.5 897.0,486.7 899.0,490.6 901.0,488.8 902.4,489.2 903.0,490.6 905.0,490.2 907.0,495.2 909.0,496.8 910.1,500.8 911.0,497.1 913.0,495.3 915.0,496.4 917.0,490.9 919.0,488.3 921.0,487.0 921.7,485.3 923.0,484.2 925.0,483.7 927.0,488.1 929.0,489.0 931.0,490.9 933.0,490.5 933.3,491.1 935.0,493.6 937.0,495.4 939.0,493.6 941.0,496.8 943.0,498.2 945.0,498.0 947.0,500.8 948.8,502.7 949.0,502.7 951.0,501.0 953.0,497.1 955.0,488.9 957.0,487.4 958.5,483.4 959.0,481.0 961.0,483.6 963.0,488.9 965.0,493.7 967.0,491.4 968.1,495.0 969.0,496.6 971.0,496.9 973.0,492.7 975.0,494.8 977.0,495.5 977.8,493.0 979.0,489.5 981.0,487.2 983.0,483.0 985.0,477.7 985.6,475.7 987.0,476.6 989.0,474.9 991.0,473.3 993.0,468.7 995.0,464.1 995.2,466.0 997.0,463.5 999.0,462.2 1001.0,463.3 1003.0,462.7 1005.0,460.1 1007.0,460.6 1009.0,459.7 1010.7,458.3 1011.0,457.7 1013.0,456.9 1015.0,454.8 1017.0,454.9 1019.0,452.0 1021.0,453.0 1023.0,451.3 1025.0,449.7 1026.2,448.6 1027.0,447.2 1029.0,446.8 1031.0,444.9 1033.0,440.9 1033.9,440.9 1035.0,441.1 1037.0,440.5 1039.0,439.3 1041.0,438.7 1043.0,437.3 1045.0,437.7 1047.0,437.0 1049.0,434.8 1049.3,435.0 1051.0,436.1 1053.0,435.6 1055.0,435.4 1057.0,436.2 1059.0,436.1 1061.0,438.4 1063.0,438.9 1064.8,438.2 1065.0,437.4 1067.0,440.1 1069.0,441.1 1071.0,441.8 1073.0,443.7 1075.0,445.1 1076.4,446.7 1077.0,447.5 1079.0,446.2 1081.0,447.2 1083.0,448.3 1085.0,447.8 1087.0,449.8 1088.0,449.8 1089.0,449.8 1091.0,449.8 1093.0,447.8 1095.0,447.4 1097.0,447.5 1099.0,446.3 1099.6,446.7 1101.0,446.5 1102.6,445.9 1103.0,445.1 1105.0,444.9 1107.0,444.0 1109.0,442.8 1111.0,442.0 1113.0,439.8 1114.2,439.0 1115.0,438.6 1117.0,438.7 1119.0,437.6 1121.0,436.3 1123.0,435.1 1123.8,435.0 1125.0,434.6 1127.0,434.3 1129.0,436.1 1131.0,434.6 1133.0,436.2 1135.0,435.8 1137.0,437.0 1137.4,435.9 1139.0,436.0 1141.0,435.8 1143.0,433.1 1145.0,433.3 1147.0,432.8 1149.0,431.5 1149.0,432.0 1151.0,427.7 1153.0,423.3 1154.8,419.6 1155.0,419.0 1157.0,412.4 1158.6,408.0 1159.0,405.8 1161.0,395.0 1163.0,384.1 1164.4,376.8 1165.0,373.5 1167.0,363.2 1169.0,352.5 1170.2,345.9 1171.0,343.2 1173.0,336.7 1175.0,329.7 1176.0,326.5 1177.0,323.7 1179.0,318.6 1181.0,313.9 1183.0,309.3 1183.8,307.2 1185.0,305.7 1187.0,302.4 1189.0,298.9 1191.0,296.2 1193.0,292.5 1193.5,291.7 1195.0,289.0 1197.0,284.6 1199.0,280.9 1199.3,280.1 1201.0,279.2 1203.0,276.9 1205.0,275.2 1207.0,274.0 1208.9,272.4 1209.0,272.4 1211.0,270.6 1213.0,268.6 1215.0,267.4 1217.0,265.8 1218.6,264.6 1219.0,264.0 1221.0,261.8 1223.0,258.8 1225.0,256.3 1227.0,253.8 1229.0,251.0 1230.2,249.2 1231.0,248.3 1233.0,246.4 1235.0,244.0 1237.0,241.8 1239.0,239.6 1241.0,237.2 1241.8,236.4 1243.0,236.4 1245.0,236.1 1247.0,236.2 1249.0,235.8 1251.0,235.6 1253.0,235.3 1255.0,235.1 1257.0,234.6 1257.3,234.5 1259.0,233.2 1261.0,231.7 1263.0,230.8 1265.0,229.6 1267.0,227.9 1267.0,227.9 1269.0,227.3 1271.0,227.8 1273.0,227.3 1275.0,227.0 1277.0,226.4 1278.6,226.7 1279.0,226.5 1281.0,225.5 1283.0,224.0 1285.0,222.7 1287.0,221.8 1288.2,220.9 1289.0,220.4 1291.0,220.9 1293.0,221.3 1295.0,221.1 1297.0,220.8 1299.0,221.1 1301.0,221.0 1303.0,220.6 1303.7,220.9 1305.0,219.6 1307.0,218.8 1309.0,216.7 1311.0,215.0 1313.0,214.2 1313.4,213.6 1315.0,213.6 1317.0,213.5 1319.0,213.6 1320.3,213.6" fill="none" stroke="#804000" stroke-width="2"/>
<polyline points="151.0,482.7 151.0,483.0 153.0,481.6 155.0,480.0 157.0,478.8 157.7,478.2 159.0,479.1 161.0,479.5 163.0,480.6 165.0,482.7 165.5,482.6 167.0,482.3 169.0,482.3 171.0,483.3 173.0,482.7 175.0,483.2 177.0,482.8 179.0,483.0 181.0,482.4 183.0,483.1 185.0,483.4 187.0,483.0 188.7,483.0 189.0,483.4 191.0,483.9 193.0,483.8 195.0,485.3 195.0,485.0 197.0,487.9 199.0,490.4 201.0,492.9 201.5,494.2 203.0,494.4 205.0,493.7 207.0,493.7 209.0,493.6 210.6,492.9 211.0,493.4 213.0,494.9 215.0,495.5 217.0,497.2 217.0,496.8 219.0,499.0 221.0,501.9 223.0,504.1 225.0,505.4 226.0,507.0 227.0,505.8 229.0,504.4 231.0,503.7 232.5,502.0 233.0,501.4 235.0,499.6 237.0,497.2 239.0,495.4 240.2,494.2 241.0,493.8 243.0,493.0 245.0,492.5 247.0,491.7 249.0,491.4 250.5,490.3 251.0,491.2 253.0,494.2 255.0,496.8 255.7,497.3 257.0,497.7 259.0,497.0 261.0,496.1 263.0,496.7 263.4,496.2 265.0,497.5 267.0,498.4 269.0,499.0 271.0,500.2 271.0,499.9 273.0,502.1 275.0,505.4 277.0,507.7 277.6,508.4 279.0,508.8 281.0,509.6 283.0,511.5 285.0,512.6 285.3,512.2 287.0,511.4 289.0,511.9 291.0,511.1 293.0,510.5 295.0,510.3 296.9,510.2 297.0,510.4 299.0,508.4 301.0,505.2 303.0,503.8 303.4,503.2 305.0,502.3 307.0,502.6 309.0,501.7 311.0,501.9 311.0,501.4 313.0,504.1 315.0,505.7 317.0,508.5 317.5,508.4 319.0,507.6 321.0,506.6 323.0,506.4 325.0,505.0 327.0,504.4 327.8,504.5 329.0,503.8 331.0,503.1 333.0,501.6 333.0,502.0 335.0,502.7 337.0,505.0 339.0,505.7 340.7,507.0 341.0,507.5 343.0,507.3 345.0,506.6 347.0,506.5 348.5,506.5 349.0,506.7 351.0,507.5 353.0,508.1 355.0,508.7 356.2,509.0 357.0,509.4 359.0,510.5 361.0,510.7 363.0,511.3 364.0,511.7 365.0,513.8 367.0,517.0 369.0,520.8 369.0,521.0 371.0,522.3 373.0,522.5 375.0,523.2 376.8,523.8 377.0,523.1 379.0,522.2 381.0,521.1 383.0,519.1 384.5,518.7 385.0,518.9 387.0,519.3 389.0,518.9 391.0,519.9 392.3,520.0 393.0,520.6 395.0,522.9 397.0,524.4 397.4,525.0 399.0,525.9 399.7,526.0 401.0,525.3 403.0,523.0 405.0,521.6 407.0,520.8 409.0,519.7 411.0,517.3 413.0,516.1 415.0,514.8 417.0,513.0 417.0,513.2 419.0,516.1 421.0,519.0 423.0,522.1 425.0,525.4 426.7,527.9 427.0,527.9 429.0,529.7 431.0,531.9 433.0,532.7 435.0,535.1 437.0,537.0 439.0,538.2 440.3,539.5 441.0,540.4 443.0,544.6 445.0,547.4 447.0,550.9 448.0,553.0 449.0,552.5 451.0,552.0 453.0,550.5 455.0,549.9 457.0,549.1 457.7,549.0 459.0,550.0 461.0,550.4 463.0,551.8 465.0,551.8 467.0,552.9 469.0,554.2 471.0,555.4 471.2,555.0 473.0,553.8 475.0,552.3 477.0,550.9 479.0,550.2 481.0,548.5 483.0,548.0 485.0,546.8 486.7,545.3 487.0,544.8 489.0,544.2 491.0,544.0 493.0,543.1 495.0,542.5 497.0,541.2 499.0,540.2 501.0,539.7 502.1,539.5 503.0,539.1 505.0,536.7 507.0,535.0 509.0,533.4 511.0,531.7 513.0,529.9 515.0,528.8 517.0,526.1 517.6,526.0 519.0,524.7 521.0,524.8 523.0,523.7 525.0,522.8 527.0,521.2 529.0,520.8 531.0,519.7 533.0,517.9 533.0,518.2 535.0,516.7 537.0,515.0 539.0,513.1 541.0,511.1 543.0,509.1 544.7,507.8 545.0,507.0 547.0,503.0 549.0,498.9 551.0,495.7 553.0,491.4 555.0,488.2 556.3,485.3 557.0,482.4 559.0,476.6 561.0,469.6 562.0,466.0 563.0,465.4 565.0,463.2 567.0,461.0 569.0,458.4 571.0,455.5 573.0,454.2 575.0,451.3 577.0,449.2 579.0,447.4 579.5,446.7 581.0,445.7 583.0,444.1 585.0,443.4 587.0,441.5 589.0,439.8 591.0,438.3 593.0,437.6 595.0,435.8 597.0,434.7 598.8,433.1 599.0,432.7 601.0,430.1 603.0,428.2 605.0,426.1 607.0,423.0 609.0,421.4 611.0,419.2 613.0,416.7 615.0,414.3 617.0,411.0 619.0,409.3 620.0,408.0 621.0,407.9 623.0,405.7 625.0,404.9 627.0,403.7 629.0,402.9 631.0,401.6 633.0,400.5 635.0,399.8 637.0,397.7 637.5,398.0 639.0,396.1 641.0,394.3 643.0,392.4 645.0,390.5 647.0,389.7 649.0,387.7 651.0,385.0 653.0,383.6 653.0,383.6 655.0,375.7 656.8,369.0 657.0,368.1 659.0,361.7 661.0,355.6 663.0,349.0 665.0,342.3 667.0,335.6 667.6,334.0 669.0,305.8 670.3,280.0 671.0,264.7 672.3,237.5 673.0,231.9 675.0,215.7 677.0,199.0 678.0,191.0 679.0,187.0 681.0,179.4 683.0,173.0 684.0,169.8 685.0,169.4 687.0,168.6 689.0,166.1 689.7,166.0 691.0,163.3 693.0,157.2 695.0,151.1 697.0,145.4 697.4,144.7 699.0,138.3 701.0,130.9 703.0,122.1 703.2,121.5 705.0,126.5 707.0,130.7 707.9,133.0 709.0,130.7 711.0,128.8 713.0,126.5 714.8,123.4 715.0,122.3 717.0,125.4 719.0,127.4 720.6,129.2 721.0,129.5 723.0,125.4 725.0,119.4 727.0,116.7 729.0,112.2 731.0,106.3 733.0,102.7 734.2,100.2 735.0,100.7 737.0,106.7 739.0,110.3 740.0,111.8 741.0,117.4 743.0,126.1 745.0,134.6 745.8,137.7 747.0,133.9 749.0,125.8 749.6,123.4 751.0,116.0 753.0,108.5 753.5,106.0 755.0,109.7 757.0,117.0 757.4,119.5 759.0,114.3 761.0,104.5 763.0,97.0 763.2,97.5 765.0,104.3 767.0,115.6 769.0,122.4 771.0,130.9 772.9,140.8 773.0,141.1 775.0,123.6 777.0,110.4 778.7,96.3 779.0,97.3 781.0,100.8 782.5,102.0 783.0,102.4 785.0,97.4 786.4,94.4 787.0,99.2 789.0,109.7 790.3,119.5 791.0,118.8 793.0,113.6 795.0,109.8 797.0,103.6 799.0,101.1 801.0,97.3 803.0,90.2 803.8,89.8 805.0,90.7 807.0,93.8 807.7,94.4 809.0,92.0 811.0,85.0 813.0,79.6 815.0,74.6 817.0,70.4 817.3,69.3 819.0,73.8 821.0,77.1 823.0,81.4 823.1,82.0 825.0,77.9 827.0,73.8 828.9,70.4 829.0,70.3 831.0,72.7 832.8,77.0 833.0,78.2 835.0,91.2 837.0,101.1 838.6,110.6 839.0,110.4 841.0,103.7 843.0,100.3 844.4,96.3 845.0,96.9 847.0,96.0 849.0,94.8 850.2,94.4 851.0,96.7 853.0,103.2 854.1,106.0 855.0,104.3 857.0,95.5 859.0,88.8 861.0,84.3 861.8,80.9 863.0,85.1 865.0,88.8 865.7,90.5 867.0,115.5 869.0,155.0 869.5,164.0 871.0,185.6 873.0,215.0 875.0,244.2 875.3,249.0 877.0,255.9 879.0,263.5 879.2,264.5 881.0,267.8 883.0,272.3 885.0,276.6 887.0,279.8 887.0,280.0 889.0,282.1 891.0,283.5 893.0,285.9 894.7,287.0 895.0,286.7 897.0,283.4 899.0,280.5 901.0,277.4 902.4,276.0 903.0,276.0 905.0,275.9 907.0,275.6 909.0,275.8 911.0,275.8 912.1,276.0 913.0,276.2 915.0,275.0 917.0,275.7 919.0,274.7 921.0,274.5 921.7,274.2 923.0,273.9 925.0,274.1 927.0,273.7 929.0,273.1 931.0,272.7 933.0,272.6 933.3,272.3 935.0,273.5 937.0,273.9 939.0,275.3 941.0,276.5 941.1,276.0 943.0,282.3 945.0,288.8 946.9,295.5 947.0,295.3 949.0,298.5 951.0,301.2 952.7,303.2 953.0,302.8 955.0,296.7 957.0,289.9 959.0,283.8 960.4,280.0 961.0,279.6 963.0,278.9 965.0,279.1 967.0,278.7 968.1,278.0 969.0,278.5 971.0,277.7 973.0,278.4 975.0,277.8 975.9,278.0 977.0,282.6 979.0,291.6 981.0,299.4 983.0,307.9 983.6,311.0 985.0,312.3 987.0,313.0 989.0,314.4 991.0,316.0 993.0,317.5 995.0,318.0 995.2,318.7 997.0,319.1 999.0,319.9 1001.0,320.6 1003.0,320.9 1005.0,322.0 1006.8,322.5 1007.0,323.0 1009.0,321.6 1011.0,321.2 1012.6,320.6 1013.0,320.9 1015.0,324.6 1017.0,328.7 1019.0,331.6 1021.0,336.1 1022.3,338.0 1023.0,339.5 1025.0,341.2 1027.0,345.0 1029.0,347.1 1031.0,350.3 1033.0,353.1 1035.0,355.3 1035.8,356.6 1037.0,355.2 1039.0,352.6 1041.0,350.1 1043.0,346.8 1045.0,344.8 1045.5,343.8 1047.0,343.8 1049.0,342.6 1051.0,341.7 1053.0,340.4 1055.0,340.1 1055.2,340.0 1057.0,340.7 1059.0,342.1 1061.0,343.1 1062.9,343.8 1063.0,344.0 1065.0,345.5 1067.0,348.1 1069.0,350.1 1071.0,351.6 1073.0,354.4 1075.0,356.2 1076.4,357.4 1077.0,356.9 1079.0,357.9 1081.0,357.0 1083.0,357.2 1085.0,357.7 1087.0,357.5 1089.0,357.5 1090.0,357.4 1091.0,359.2 1093.0,362.2 1095.0,365.2 1097.0,368.2 1099.0,371.3 1099.6,372.8 1101.0,373.9 1103.0,375.1 1105.0,376.0 1106.4,376.8 1107.0,377.6 1109.0,378.7 1111.0,380.2 1113.0,381.9 1115.0,384.1 1116.1,384.5 1117.0,384.9 1119.0,387.4 1121.0,389.1 1123.0,391.7 1125.0,393.2 1125.8,394.2 1127.0,394.1 1129.0,394.4 1131.0,394.7 1133.0,395.1 1135.0,394.8 1135.4,395.0 1137.0,396.9 1139.0,398.0 1141.0,400.1 1143.0,401.8 1145.0,403.7 1147.0,406.4 1149.0,408.3 1149.0,408.0 1151.0,410.3 1153.0,412.9 1154.8,415.7 1155.0,416.0 1157.0,420.9 1159.0,425.4 1161.0,429.8 1163.0,434.0 1164.4,437.0 1165.0,437.8 1167.0,442.1 1169.0,445.8 1171.0,450.2 1173.0,454.3 1174.1,456.4 1175.0,456.8 1177.0,458.5 1179.0,460.8 1181.0,461.5 1183.0,464.1 1185.0,465.9 1185.7,466.0 1187.0,468.4 1189.0,470.5 1191.0,473.5 1193.0,476.3 1195.0,479.2 1195.4,479.6 1197.0,482.0 1199.0,484.0 1201.0,485.9 1203.0,488.9 1205.0,490.8 1207.0,493.2 1207.0,493.1 1209.0,494.7 1211.0,495.2 1213.0,497.4 1215.0,498.6 1217.0,499.7 1218.6,500.8 1219.0,501.2 1221.0,502.8 1223.0,504.1 1225.0,506.2 1227.0,507.3 1229.0,509.5 1230.2,510.5 1231.0,511.1 1233.0,511.8 1235.0,513.0 1237.0,514.5 1239.0,515.4 1241.0,515.5 1241.8,516.3 1243.0,516.8 1245.0,517.0 1247.0,516.6 1249.0,517.3 1251.0,517.5 1253.0,517.6 1253.4,518.2 1255.0,519.8 1257.0,522.3 1259.0,523.6 1261.0,526.2 1261.2,526.0 1263.0,527.7 1265.0,528.7 1267.0,531.2 1269.0,532.6 1271.0,534.6 1272.8,535.6 1273.0,535.9 1275.0,536.3 1277.0,536.1 1279.0,537.0 1281.0,537.5 1283.0,537.8 1284.4,537.6 1285.0,538.0 1287.0,540.0 1289.0,541.2 1291.0,542.4 1293.0,543.9 1294.1,545.3 1295.0,545.7 1297.0,547.8 1299.0,549.8 1301.0,552.2 1301.8,553.0 1303.0,553.7 1305.0,554.1 1307.0,554.7 1307.6,555.0 1309.0,554.8 1311.0,553.9 1313.0,553.6 1315.0,553.4 1315.3,553.0 1317.0,551.2 1319.0,548.9 1320.3,548.0" fill="none" stroke="#FF0000" stroke-width="2"/>
<polyline points="151.5,452.1 151.5,452.4 154.5,452.1 157.5,452.6 160.5,452.5 163.5,452.5 166.0,453.1 166.5,453.0 169.5,453.5 172.5,453.4 175.5,453.4 176.3,453.1 178.5,453.1 181.5,453.9 184.5,454.1 187.5,454.4 189.2,455.0 190.5,454.9 193.5,455.6 196.5,456.8 196.9,456.5 199.5,458.4 202.0,459.5 202.5,459.9 205.5,460.5 208.5,460.4 211.5,461.1 212.4,461.5 214.5,462.9 217.5,464.7 220.1,466.0 220.5,466.6 223.5,468.5 226.5,469.5 227.8,470.7 229.5,470.8 232.5,470.9 233.0,470.7 235.5,469.4 238.5,467.6 240.7,466.8 241.5,466.5 244.5,465.1 247.5,465.0 248.5,464.2 250.5,465.1 253.5,465.5 253.5,465.5 256.5,466.2 259.5,467.7 261.3,467.8 262.5,468.0 265.5,468.5 268.5,468.6 271.5,468.5 271.5,468.5 274.5,469.9 277.5,471.6 279.4,472.5 280.5,472.9 283.5,473.8 286.5,475.1 287.1,475.5 289.5,475.8 292.5,475.0 295.5,475.0 298.5,475.6 300.0,475.5 301.5,475.0 304.5,474.6 307.5,473.8 310.5,473.1 311.5,473.0 313.5,473.8 316.5,473.5 319.5,474.2 320.5,474.5 322.5,474.6 325.5,475.5 328.5,475.7 330.9,476.4 331.5,476.3 334.5,477.2 337.5,477.2 340.5,477.9 343.5,478.8 343.8,478.4 346.5,478.2 349.5,478.3 351.5,478.9 352.5,479.1 355.5,480.9 358.5,482.0 361.5,482.9 361.8,483.3 364.5,485.2 367.5,487.3 370.5,489.9 373.5,491.7 374.7,493.1 376.5,493.2 379.5,493.2 382.5,493.1 385.0,492.5 385.5,492.9 388.5,494.4 391.5,494.7 392.8,495.7 394.5,496.8 397.5,499.9 399.2,500.8 400.5,501.7 402.1,502.3 403.5,501.6 406.5,500.8 409.5,499.1 412.5,498.0 415.5,496.1 418.5,494.6 419.5,494.5 421.5,496.2 424.5,498.5 427.5,501.3 430.5,504.5 433.0,506.2 433.5,506.5 436.5,509.2 439.5,512.2 442.5,515.2 445.5,518.8 448.5,521.4 448.5,521.5 451.5,522.7 454.5,523.9 457.5,526.2 460.5,527.0 463.5,528.2 466.5,529.4 469.5,530.8 472.5,532.4 473.6,533.2 475.5,532.9 478.5,531.5 481.5,530.6 484.5,530.3 487.5,529.2 490.5,529.2 493.5,527.5 494.9,527.5 496.5,526.6 499.5,525.1 502.5,523.0 505.5,521.8 508.5,519.5 511.5,517.5 514.5,515.9 517.5,513.8 518.1,513.9 520.5,512.9 523.5,511.5 526.5,511.0 529.5,509.7 532.5,508.2 535.5,506.5 537.5,506.2 538.5,504.9 541.5,501.9 544.5,498.9 547.5,495.9 550.5,493.5 552.9,490.7 553.5,489.0 556.5,482.4 559.5,476.8 562.5,469.9 564.5,465.5 565.5,464.5 568.5,459.4 571.5,455.5 574.5,450.8 577.5,446.4 580.0,442.4 580.5,442.3 583.5,439.9 586.5,437.4 589.5,435.4 592.5,434.0 595.5,431.9 598.5,429.8 599.3,428.8 601.5,426.6 604.5,424.2 607.5,421.6 610.5,418.7 613.5,416.2 616.5,413.2 619.5,410.6 620.5,409.5 622.5,407.9 625.5,404.9 628.5,402.9 631.5,400.3 634.1,397.5 634.5,396.8 637.5,395.9 640.5,394.0 643.5,391.8 646.5,389.3 649.5,388.3 649.5,387.9 652.5,383.1 655.5,379.4 658.5,374.7 661.2,370.5 661.5,370.0 664.5,369.2 667.5,368.7 670.5,367.7 673.5,367.0 676.5,366.3 676.7,365.8 679.5,365.3 682.5,364.8 685.5,365.5 688.5,364.4 690.2,364.7 691.5,363.0 694.5,357.5 697.5,353.5 700.5,348.7 703.5,344.1 703.7,343.4 706.5,340.2 709.5,337.0 712.5,332.9 715.3,329.9 715.5,329.9 718.5,326.2 721.5,323.5 724.5,320.0 726.9,317.1 727.5,317.6 730.5,320.0 733.5,321.9 736.5,324.3 736.5,324.8 739.5,321.6 742.5,318.3 744.3,316.3 745.5,317.6 748.5,319.8 750.1,321.0 751.5,322.2 752.1,323.3 754.5,320.9 757.5,318.5 760.5,315.5 763.5,312.2 763.7,312.5 766.5,311.0 769.5,308.9 772.5,306.2 775.3,304.7 775.5,304.5 778.5,301.4 781.5,298.9 784.5,295.4 785.0,295.1 787.5,297.7 790.5,301.4 792.7,303.9 793.5,303.8 796.5,300.8 799.5,298.7 802.4,297.0 802.5,297.1 805.5,296.9 808.5,296.0 811.5,295.4 814.0,295.1 814.5,295.0 817.5,292.2 820.5,288.8 823.5,286.9 825.6,284.6 826.5,284.0 829.5,283.1 832.5,282.7 835.2,281.5 835.5,281.4 838.5,282.0 841.5,281.5 844.5,282.4 847.5,281.9 848.8,282.3 850.5,281.3 853.5,280.4 856.5,279.0 859.5,278.0 860.4,277.6 862.5,277.4 865.5,276.3 868.5,274.7 871.5,274.1 874.5,273.4 875.8,273.0 877.5,273.8 880.5,275.6 883.5,276.8 883.6,276.9 886.5,277.3 889.5,278.2 892.5,279.7 893.2,279.5 895.5,278.7 898.5,278.3 901.5,277.7 904.5,276.5 906.8,275.7 907.5,275.8 910.5,275.6 913.5,275.2 916.5,275.6 919.5,275.0 922.2,274.9 922.5,275.2 925.5,273.8 928.5,273.5 931.5,272.5 934.5,271.5 937.5,270.4 939.6,269.9 940.5,270.1 943.5,272.5 946.5,273.9 949.3,275.7 949.5,276.1 952.5,278.6 955.5,281.6 957.0,283.5 958.5,282.7 961.5,282.5 964.5,281.0 966.7,280.7 967.5,280.4 970.5,277.2 973.5,274.8 974.5,273.8 976.5,276.2 979.5,280.2 982.2,283.5 982.5,283.8 985.5,291.2 988.5,298.9 991.5,305.2 991.9,306.5 994.5,308.0 997.5,309.2 1000.5,310.7 1003.5,312.0 1006.5,313.5 1007.3,314.4 1009.5,315.1 1012.5,315.3 1015.5,315.6 1017.0,315.5 1018.5,317.1 1021.5,319.9 1024.5,321.7 1026.7,324.0 1027.5,324.5 1030.5,325.9 1033.5,327.5 1036.5,329.4 1038.3,329.9 1039.5,329.4 1042.5,327.7 1045.5,325.0 1048.5,323.6 1051.5,321.8 1053.7,320.2 1054.5,320.6 1057.5,320.9 1060.5,321.6 1063.5,321.6 1065.3,322.1 1066.5,323.2 1069.5,324.4 1072.5,326.3 1075.5,328.3 1076.9,328.7 1078.5,329.6 1081.5,330.5 1084.5,331.7 1087.5,333.1 1090.5,334.7 1093.5,336.4 1096.5,337.5 1099.5,338.3 1100.1,338.7 1102.5,339.9 1105.5,342.0 1108.5,343.2 1111.5,345.0 1114.5,346.3 1117.5,348.1 1120.5,350.2 1122.4,351.2 1123.5,352.0 1126.5,353.7 1129.5,355.2 1132.5,357.6 1135.5,359.0 1138.5,360.3 1141.5,362.0 1144.5,364.6 1145.6,364.8 1147.5,366.7 1150.5,368.9 1153.5,370.8 1156.5,372.8 1159.5,374.8 1161.1,376.4 1162.5,379.0 1165.5,385.0 1168.5,391.7 1170.7,395.7 1171.5,397.5 1174.5,402.7 1177.5,407.4 1178.5,409.5 1180.5,412.8 1183.5,418.3 1186.5,424.3 1188.2,426.9 1189.5,427.8 1192.5,431.2 1195.5,433.9 1198.5,436.5 1201.5,439.7 1203.6,441.2 1204.5,441.6 1207.5,444.2 1210.5,446.1 1213.5,448.3 1216.5,450.5 1219.5,453.1 1222.5,455.1 1223.0,455.9 1225.5,458.0 1228.5,461.9 1231.5,464.2 1234.5,467.8 1237.5,470.7 1240.5,473.7 1242.3,475.3 1243.5,476.0 1246.5,477.8 1249.5,479.2 1252.5,480.6 1255.5,481.9 1258.5,483.5 1261.5,485.0 1261.7,484.9 1264.5,486.4 1267.5,487.8 1270.5,489.0 1273.5,491.1 1276.5,492.3 1279.5,493.4 1282.5,495.0 1284.9,496.5 1285.5,497.2 1288.5,498.1 1291.5,499.7 1294.5,501.5 1297.5,503.2 1300.5,504.2 1303.5,505.7 1304.2,506.2 1306.5,507.2 1309.5,508.2 1312.5,510.4 1315.5,511.0 1318.5,513.3 1320.8,513.9" fill="none" stroke="#FF8000" stroke-width="1"/>
<polyline points="151.0,450.6 151.0,450.9 154.0,450.6 157.0,451.1 160.0,451.0 163.0,451.0 165.5,451.6 166.0,451.5 169.0,452.0 172.0,451.9 175.0,451.9 175.8,451.6 178.0,451.6 181.0,452.4 184.0,452.6 187.0,452.9 188.7,453.5 190.0,453.4 193.0,454.1 196.0,455.3 196.4,455.0 199.0,456.9 201.5,458.0 202.0,458.4 205.0,459.0 208.0,458.9 211.0,459.6 211.9,460.0 214.0,461.4 217.0,463.2 219.6,464.5 220.0,465.1 223.0,467.0 226.0,468.0 227.3,469.2 229.0,469.3 232.0,469.4 232.5,469.2 235.0,467.9 238.0,466.1 240.2,465.3 241.0,465.0 244.0,463.6 247.0,463.5 248.0,462.7 250.0,463.6 253.0,464.0 253.0,464.0 256.0,464.7 259.0,466.2 260.8,466.3 262.0,466.5 265.0,467.0 268.0,467.1 271.0,467.0 271.0,467.0 274.0,468.4 277.0,470.1 278.9,471.0 280.0,471.4 283.0,472.3 286.0,473.6 286.6,474.0 289.0,474.3 292.0,473.5 295.0,473.5 298.0,474.1 299.5,474.0 301.0,473.5 304.0,473.1 307.0,472.3 310.0,471.6 311.0,471.5 313.0,472.3 316.0,472.0 319.0,472.7 320.0,473.0 322.0,473.1 325.0,474.0 328.0,474.2 330.4,474.9 331.0,474.8 334.0,475.7 337.0,475.7 340.0,476.4 343.0,477.3 343.3,476.9 346.0,476.7 349.0,476.8 351.0,477.4 352.0,477.6 355.0,479.4 358.0,480.5 361.0,481.4 361.3,481.8 364.0,483.7 367.0,485.8 370.0,488.4 373.0,490.2 374.2,491.6 376.0,491.7 379.0,491.7 382.0,491.6 384.5,491.0 385.0,491.4 388.0,492.9 391.0,493.2 392.3,494.2 394.0,495.3 397.0,498.4 398.7,499.3 400.0,500.2 401.6,500.8 403.0,500.1 406.0,499.3 409.0,497.6 412.0,496.5 415.0,494.6 418.0,493.1 419.0,493.0 421.0,494.7 424.0,497.0 427.0,499.8 430.0,503.0 432.5,504.7 433.0,505.0 436.0,507.7 439.0,510.7 442.0,513.7 445.0,517.3 448.0,519.9 448.0,520.0 451.0,521.2 454.0,522.4 457.0,524.7 460.0,525.5 463.0,526.7 466.0,527.9 469.0,529.3 472.0,530.9 473.1,531.7 475.0,531.4 478.0,530.0 481.0,529.1 484.0,528.8 487.0,527.7 490.0,527.7 493.0,526.0 494.4,526.0 496.0,525.1 499.0,523.6 502.0,521.5 505.0,520.3 508.0,518.0 511.0,516.0 514.0,514.4 517.0,512.3 517.6,512.4 520.0,511.4 523.0,510.0 526.0,509.5 529.0,508.2 532.0,506.7 535.0,505.0 537.0,504.7 538.0,503.4 541.0,500.4 544.0,497.4 547.0,494.4 550.0,492.0 552.4,489.2 553.0,487.5 556.0,480.9 559.0,475.3 562.0,468.4 564.0,464.0 565.0,463.0 568.0,457.9 571.0,454.0 574.0,449.3 577.0,444.9 579.5,440.9 580.0,440.8 583.0,438.4 586.0,435.9 589.0,433.9 592.0,432.5 595.0,430.4 598.0,428.3 598.8,427.3 601.0,425.1 604.0,422.7 607.0,420.1 610.0,417.2 613.0,414.7 616.0,411.7 619.0,409.1 620.0,408.0 622.0,406.4 625.0,403.4 628.0,401.4 631.0,398.8 633.6,396.0 634.0,395.3 637.0,394.4 640.0,392.5 643.0,390.3 646.0,387.8 649.0,386.8 649.0,386.4 652.0,381.6 655.0,377.9 658.0,373.2 660.7,369.0 661.0,368.5 664.0,367.7 667.0,367.2 670.0,366.2 673.0,365.5 676.0,364.8 676.2,364.3 679.0,363.8 682.0,363.3 685.0,364.0 688.0,362.9 689.7,363.2 691.0,361.5 694.0,356.0 697.0,352.0 700.0,347.2 703.0,342.6 703.2,341.9 706.0,338.7 709.0,335.5 712.0,331.4 714.8,328.4 715.0,328.4 718.0,324.7 721.0,322.0 724.0,318.5 726.4,315.6 727.0,316.1 730.0,318.5 733.0,320.4 736.0,322.8 736.0,323.3 739.0,320.1 742.0,316.8 743.8,314.8 745.0,316.1 748.0,318.3 749.6,319.5 751.0,320.7 751.6,321.8 754.0,319.4 757.0,317.0 760.0,314.0 763.0,310.7 763.2,311.0 766.0,309.5 769.0,307.4 772.0,304.7 774.8,303.2 775.0,303.0 778.0,299.9 781.0,297.4 784.0,293.9 784.5,293.6 787.0,296.2 790.0,299.9 792.2,302.4 793.0,302.3 796.0,299.3 799.0,297.2 801.9,295.5 802.0,295.6 805.0,295.4 808.0,294.5 811.0,293.9 813.5,293.6 814.0,293.5 817.0,290.7 820.0,287.3 823.0,285.4 825.1,283.1 826.0,282.5 829.0,281.6 832.0,281.2 834.7,280.0 835.0,279.9 838.0,280.5 841.0,280.0 844.0,280.9 847.0,280.4 848.3,280.8 850.0,279.8 853.0,278.9 856.0,277.5 859.0,276.5 859.9,276.1 862.0,275.9 865.0,274.8 868.0,273.2 871.0,272.6 874.0,271.9 875.3,271.5 877.0,272.3 880.0,274.1 883.0,275.3 883.1,275.4 886.0,275.8 889.0,276.7 892.0,278.2 892.7,278.0 895.0,277.2 898.0,276.8 901.0,276.2 904.0,275.0 906.3,274.2 907.0,274.3 910.0,274.1 913.0,273.7 916.0,274.1 919.0,273.5 921.7,273.4 922.0,273.7 925.0,272.3 928.0,272.0 931.0,271.0 934.0,270.0 937.0,268.9 939.1,268.4 940.0,268.6 943.0,271.0 946.0,272.4 948.8,274.2 949.0,274.6 952.0,277.1 955.0,280.1 956.5,282.0 958.0,281.2 961.0,281.0 964.0,279.5 966.2,279.2 967.0,278.9 970.0,275.7 973.0,273.3 974.0,272.3 976.0,274.7 979.0,278.7 981.7,282.0 982.0,282.3 985.0,289.7 988.0,297.4 991.0,303.7 991.4,305.0 994.0,306.5 997.0,307.7 1000.0,309.2 1003.0,310.5 1006.0,312.0 1006.8,312.9 1009.0,313.6 1012.0,313.8 1015.0,314.1 1016.5,314.0 1018.0,315.6 1021.0,318.4 1024.0,320.2 1026.2,322.5 1027.0,323.0 1030.0,324.4 1033.0,326.0 1036.0,327.9 1037.8,328.4 1039.0,327.9 1042.0,326.2 1045.0,323.5 1048.0,322.1 1051.0,320.3 1053.2,318.7 1054.0,319.1 1057.0,319.4 1060.0,320.1 1063.0,320.1 1064.8,320.6 1066.0,321.7 1069.0,322.9 1072.0,324.8 1075.0,326.8 1076.4,327.2 1078.0,328.1 1081.0,329.0 1084.0,330.2 1087.0,331.6 1090.0,333.2 1093.0,334.9 1096.0,336.0 1099.0,336.8 1099.6,337.2 1102.0,338.4 1105.0,340.5 1108.0,341.7 1111.0,343.5 1114.0,344.8 1117.0,346.6 1120.0,348.7 1121.9,349.7 1123.0,350.5 1126.0,352.2 1129.0,353.7 1132.0,356.1 1135.0,357.5 1138.0,358.8 1141.0,360.5 1144.0,363.1 1145.1,363.3 1147.0,365.2 1150.0,367.4 1153.0,369.3 1156.0,371.3 1159.0,373.3 1160.6,374.9 1162.0,377.5 1165.0,383.5 1168.0,390.2 1170.2,394.2 1171.0,396.0 1174.0,401.2 1177.0,405.9 1178.0,408.0 1180.0,411.3 1183.0,416.8 1186.0,422.8 1187.7,425.4 1189.0,426.3 1192.0,429.7 1195.0,432.4 1198.0,435.0 1201.0,438.2 1203.1,439.7 1204.0,440.1 1207.0,442.7 1210.0,444.6 1213.0,446.8 1216.0,449.0 1219.0,451.6 1222.0,453.6 1222.5,454.4 1225.0,456.5 1228.0,460.4 1231.0,462.7 1234.0,466.3 1237.0,469.2 1240.0,472.2 1241.8,473.8 1243.0,474.5 1246.0,476.3 1249.0,477.7 1252.0,479.1 1255.0,480.4 1258.0,482.0 1261.0,483.5 1261.2,483.4 1264.0,484.9 1267.0,486.3 1270.0,487.5 1273.0,489.6 1276.0,490.8 1279.0,491.9 1282.0,493.5 1284.4,495.0 1285.0,495.7 1288.0,496.6 1291.0,498.2 1294.0,500.0 1297.0,501.7 1300.0,502.7 1303.0,504.2 1303.7,504.7 1306.0,505.7 1309.0,506.7 1312.0,508.9 1315.0,509.5 1318.0,511.8 1320.3,512.4" fill="none" stroke="#0000FF" stroke-width="2"/>
<rect x="152" y="767" width="1168" height="1" fill="#00E0FF"/>
<rect x="152" y="768" width="1168" height="1" fill="#F8E400"/>
<rect x="150" y="47" width="1172" height="2" fill="#808080"/>
<rect x="150" y="47" width="2" height="722" fill="#808080"/>
<rect x="1320" y="47" width="2" height="722" fill="#808080"/>
<rect x="40" y="48" width="1" height="721" fill="#808080"/>
<rect x="36" y="48" width="8" height="1" fill="#808080"/>
<rect x="36" y="768" width="8" height="1" fill="#808080"/>
<text x="34" y="52" fill="#0000FF" text-anchor="end" >35.0</text>
<rect x="36" y="128" width="4" height="1" fill="#808080"/>
<text x="34" y="132" fill="#0000FF" text-anchor="end" >30.0</text>
<rect x="36" y="208" width="4" height="1" fill="#808080"/>
<text x="34" y="212" fill="#0000FF" text-anchor="end" >25.0</text>
<rect x="36" y="288" width="4" height="1" fill="#808080"/>
<text x="34" y="292" fill="#0000FF" text-anchor="end" >20.0</text>
<rect x="36" y="368" width="4" height="1" fill="#808080"/>
<text x="34" y="372" fill="#0000FF" text-anchor="end" >15.0</text>
<rect x="36" y="448" width="4" height="1" fill="#808080"/>
<text x="34" y="452" fill="#0000FF" text-anchor="end" >10.0</text>
<rect x="36" y="528" width="4" height="1" fill="#808080"/>
<text x="34" y="532" fill="#0000FF" text-anchor="end" >5.0</text>
<rect x="36" y="608" width="4" height="1" fill="#808080"/>
<text x="34" y="612" fill="#0000FF" text-anchor="end" >0.0</text>
<rect x="36" y="688" width="4" height="1" fill="#808080"/>
<text x="34" y="692" fill="#0000FF" text-anchor="end" >-5.0</text>
<text x="34" y="772" fill="#0000FF" text-anchor="end" >-10.0</text>
<rect x="77" y="48" width="1" height="721" fill="#808080"/>
<rect x="73" y="48" width="8" height="1" fill="#808080"/>
<rect x="73" y="768" width="8" height="1" fill="#808080"/>
<text x="71.5" y="52" fill="#00E040" text-anchor="end" >1040</text>
<rect x="73" y="108" width="4" height="1" fill="#808080"/>
<text x="71.5" y="112" fill="#00E040" text-anchor="end" >1035</text>
<rect x="73" y="168" width="4" height="1" fill="#808080"/>
<text x="71.5" y="172" fill="#00E040" text-anchor="end" >1030</text>
<rect x="73" y="228" width="4" height="1" fill="#808080"/>
<text x="71.5" y="232" fill="#00E040" text-anchor="end" >1025</text>
<rect x="73" y="288" width="4" height="1" fill="#808080"/>
<text x="71.5" y="292" fill="#00E040" text-anchor="end" >1020</text>
<rect x="73" y="348" width="4" height="1" fill="#808080"/>
<text x="71.5" y="352" fill="#00E040" text-anchor="end" >1015</text>
<rect x="73" y="408" width="4" height="1" fill="#808080"/>
<text x="71.5" y="412" fill="#00E040" text-anchor="end" >1010</text>
<rect x="73" y="468" width="4" height="1" fill="#808080"/>
<text x="71.5" y="472" fill="#00E040" text-anchor="end" >1005</text>
<rect x="73" y="528" width="4" height="1" fill="#808080"/>
<text x="71.5" y="532" fill="#00E040" text-anchor="end" >1000</text>
<rect x="73" y="588" width="4" height="1" fill="#808080"/>
<text x="71.5" y="592" fill="#00E040" text-anchor="end" >995</text>
<rect x="73" y="648" width="4" height="1" fill="#808080"/>
<text x="71.5" y="652" fill="#00E040" text-anchor="end" >990</text>
<rect x="73" y="708" width="4" height="1" fill="#808080"/>
<text x="71.5" y="712" fill="#00E040" text-anchor="end" >985</text>
<text x="71.5" y="772" fill="#00E040" text-anchor="end" >980</text>
<rect x="114" y="48" width="1" height="721" fill="#808080"/>
<rect x="110" y="48" width="8" height="1" fill="#808080"/>
<rect x="110" y="768" width="8" height="1" fill="#808080"/>
<text x="108.5" y="52" fill="#000" text-anchor="end" >40.0</text>
<rect x="110" y="138" width="4" height="1" fill="#808080"/>
<text x="108.5" y="142" fill="#000" text-anchor="end" >35.0</text>
<rect x="110" y="228" width="4" height="1" fill="#808080"/>
<text x="108.5" y="232" fill="#000" text-anchor="end" >30.0</text>
<rect x="110" y="318" width="4" height="1" fill="#808080"/>
<text x="108.5" y="322" fill="#000" text-anchor="end" >25.0</text>
<rect x="110" y="408" width="4" height="1" fill="#808080"/>
<text x="108.5" y="412" fill="#000" text-anchor="end" >20.0</text>
<rect x="110" y="498" width="4" height="1" fill="#808080"/>
<text x="108.5" y="502" fill="#000" text-anchor="end" >15.0</text>
<rect x="110" y="588" width="4" height="1" fill="#808080"/>
<text x="108.5" y="592" fill="#000" text-anchor="end" >10.0</text>
<rect x="110" y="678" width="4" height="1" fill="#808080"/>
<text x="108.5" y="682" fill="#000" text-anchor="end" >5.0</text>
<text x="108.5" y="772" fill="#000" text-anchor="end" >0.0</text>
<rect x="147" y="48" width="3" height="1" fill="#808080"/>
<text x="146" y="52" fill="#FFE000" text-anchor="end" >20</text>
<rect x="147" y="228" width="3" height="1" fill="#808080"/>
<text x="146" y="232" fill="#FFE000" text-anchor="end" >15</text>
<rect x="147" y="408" width="3" height="1" fill="#808080"/>
<text x="146" y="412" fill="#FFE000" text-anchor="end" >10</text>
<rect x="147" y="588" width="3" height="1" fill="#808080"/>
<text x="146" y="592" fill="#FFE000" text-anchor="end" >5</text>
<rect x="147" y="768" width="3" height="1" fill="#808080"/>
<text x="146" y="772" fill="#FFE000" text-anchor="end" >0</text>
<rect x="150" y="768" width="2" height="5" fill="#808080"/>
<rect x="1321" y="48" width="4" height="1" fill="#808080"/>
<text x="1327" y="52" fill="#804000" text-anchor="start" >100</text>
<rect x="1321" y="120" width="4" height="1" fill="#808080"/>
<text x="1327" y="124" fill="#804000" text-anchor="start" >90</text>
<rect x="1321" y="192" width="4" height="1" fill="#808080"/>
<text x="1327" y="196" fill="#804000" text-anchor="start" >80</text>
<rect x="1321" y="264" width="4" height="1" fill="#808080"/>
<text x="1327" y="268" fill="#804000" text-anchor="start" >70</text>
<rect x="1321" y="336" width="4" height="1" fill="#808080"/>
<text x="1327" y="340" fill="#804000" text-anchor="start" >60</text>
<rect x="1321" y="408" width="4" height="1" fill="#808080"/>
<text x="1327" y="412" fill="#804000" text-anchor="start" >50</text>
<rect x="1321" y="480" width="4" height="1" fill="#808080"/>
<text x="1327" y="484" fill="#804000" text-anchor="start" >40</text>
<rect x="1321" y="552" width="4" height="1" fill="#808080"/>
<text x="1327" y="556" fill="#804000" text-anchor="start" >30</text>
<rect x="1321" y="624" width="4" height="1" fill="#808080"/>
<text x="1327" y="628" fill="#804000" text-anchor="start" >20</text>
<rect x="1321" y="696" width="4" height="1" fill="#808080"/>
<text x="1327" y="700" fill="#804000" text-anchor="start" >10</text>
<rect x="1321" y="768" width="4" height="1" fill="#808080"/>
<text x="1327" y="772" fill="#804000" text-anchor="start" >0</text>
<rect x="1358" y="48" width="1" height="721" fill="#808080"/>
<rect x="1354" y="48" width="8" height="1" fill="#808080"/>
<rect x="1354" y="768" width="9" height="1" fill="#808080"/>
<text x="1364" y="52" fill="#00D0FF" text-anchor="start" >40.0</text>
<rect x="1358" y="228" width="4" height="1" fill="#808080"/>
<text x="1364" y="232" fill="#00D0FF" text-anchor="start" >30.0</text>
<rect x="1358" y="408" width="4" height="1" fill="#808080"/>
<text x="1364" y="412" fill="#00D0FF" text-anchor="start" >20.0</text>
<rect x="1358" y="588" width="4" height="1" fill="#808080"/>
<text x="1364" y="592" fill="#00D0FF" text-anchor="start" >10.0</text>
<text x="1364" y="772" fill="#00D0FF" text-anchor="start" >0.0</text>
<rect x="1395" y="48" width="1" height="721" fill="#808080"/>
<rect x="1391" y="48" width="8" height="1" fill="#808080"/>
<rect x="1391" y="768" width="8" height="1" fill="#808080"/>
<text x="1401" y="52" fill="#808080" text-anchor="start" >360</text>
<text x="1420" y="52" fill="#808080" text-anchor="start" >N</text>
<rect x="1395" y="108" width="4" height="1" fill="#808080"/>
<text x="1401" y="112" fill="#808080" text-anchor="start" >330</text>
<rect x="1395" y="168" width="4" height="1" fill="#808080"/>
<text x="1401" y="172" fill="#808080" text-anchor="start" >300</text>
<rect x="1395" y="228" width="4" height="1" fill="#808080"/>
<text x="1401" y="232" fill="#808080" text-anchor="start" >270</text>
<text x="1420" y="232" fill="#808080" text-anchor="start" >W</text>
<rect x="1395" y="288" width="4" height="1" fill="#808080"/>
<text x="1401" y="292" fill="#808080" text-anchor="start" >240</text>
<rect x="1395" y="348" width="4" height="1" fill="#808080"/>
<text x="1401" y="352" fill="#808080" text-anchor="start" >210</text>
<rect x="1395" y="408" width="4" height="1" fill="#808080"/>
<text x="1401" y="412" fill="#808080" text-anchor="start" >180</text>
<text x="1420" y="412" fill="#808080" text-anchor="start" >S</text>
<rect x="1395" y="468" width="4" height="1" fill="#808080"/>
<text x="1401" y="472" fill="#808080" text-anchor="start" >150</text>
<rect x="1395" y="528" width="4" height="1" fill="#808080"/>
<text x="1401" y="532" fill="#808080" text-anchor="start" >120</text>
<rect x="1395" y="588" width="4" height="1" fill="#808080"/>
<text x="1401" y="592" fill="#808080" text-anchor="start" >90</text>
<text x="1420" y="592" fill="#808080" text-anchor="start" >O</text>
<rect x="1395" y="648" width="4" height="1" fill="#808080"/>
<text x="1401" y="652" fill="#808080" text-anchor="start" >60</text>
<rect x="1395" y="708" width="4" height="1" fill="#808080"/>
<text x="1401" y="712" fill="#808080" text-anchor="start" >30</text>
<text x="1401" y="772" fill="#808080" text-anchor="start" >0</text>
<text x="1420" y="772" fill="#808080" text-anchor="start" >N</text>
<text x="20" y="37" fill="#0000FF" text-anchor="start" >°C</text>
<text x="48" y="37" fill="#00E040" text-anchor="start" >hPa</text>
<text x="80" y="37" fill="#000" text-anchor="start" >km/h</text>
<text x="126" y="37" fill="#FFE000" text-anchor="start" >min</text>
<text x="1322" y="37" fill="#804000" text-anchor="start" >%</text>
<text x="1358" y="37" fill="#00D0FF" text-anchor="start" >l/m²</text>
<text x="1396" y="34" fill="#808080" text-anchor="start" >°</text>
<text x="718" y="21" text-anchor="middle" font-size="16" fill="#000">Sonntag, 27.04.2025</text>
<text x="1431" y="16" fill="#000" text-anchor="end" font-size="10.75">Wetterstation Niedersorpe 440m NN</text>
<rect x="161.5" y="33.5" width="9" height="9" fill="#0000FF" stroke="#000" stroke-width="1"/>
<text x="176" y="42" fill="#0000FF" text-anchor="start" >Temp. 2m*</text>
<rect x="256.5" y="33.5" width="9" height="9" fill="#FF0000" stroke="#000" stroke-width="1"/>
<text x="271" y="42" fill="#0000FF" text-anchor="start" >Temp. 5cm*</text>
<rect x="351.5" y="33.5" width="9" height="9" fill="#804000" stroke="#000" stroke-width="1"/>
<text x="366" y="42" fill="#804000" text-anchor="start" >Feuchte A.*</text>
<rect x="446.5" y="33.5" width="9" height="9" fill="#00F040" stroke="#000" stroke-width="1"/>
<text x="461" y="42" fill="#00E040" text-anchor="start" >Luftdruck*</text>
<rect x="541.5" y="33.5" width="9" height="9" fill="#00E0FF" stroke="#000" stroke-width="1"/>
<text x="556" y="42" fill="#00D0FF" text-anchor="start" >Regen*</text>
<rect x="636.5" y="33.5" width="9" height="9" fill="#000000" stroke="#000" stroke-width="1"/>
<text x="651" y="42" fill="#000" text-anchor="start" >Wind</text>
<rect x="731.5" y="33.5" width="9" height="9" fill="#808080" stroke="#000" stroke-width="1"/>
<text x="746" y="42" fill="#808080" text-anchor="start" >Richtung*</text>
<rect x="826.5" y="33.5" width="9" height="9" fill="#FFF000" stroke="#000" stroke-width="1"/>
<text x="841" y="42" fill="#FFE000" text-anchor="start" >Sonnenschein</text>
<rect x="921.5" y="33.5" width="9" height="9" fill="#008040" stroke="#000" stroke-width="1"/>
<text x="936" y="42" fill="#0000FF" text-anchor="start" >Taupunkt*</text>
<rect x="1016.5" y="33.5" width="9" height="9" fill="#FF8000" stroke="#000" stroke-width="1"/>
<text x="1031" y="42" fill="#0000FF" text-anchor="start" >Windchill</text>
<rect x="1112.5" y="33.5" width="9" height="9" fill="#8000FF" stroke="#000" stroke-width="1"/>
<text x="1126" y="42" fill="#000" text-anchor="start" >Windböen</text>
<text x="153" y="787" fill="#000" text-anchor="middle" >00:00</text>
<text x="201" y="787" fill="#000" text-anchor="middle" >01:00</text>
<text x="250" y="787" fill="#000" text-anchor="middle" >02:00</text>
<text x="299" y="787" fill="#000" text-anchor="middle" >03:00</text>
<text x="348" y="787" fill="#000" text-anchor="middle" >04:00</text>
<text x="396" y="787" fill="#000" text-anchor="middle" >05:00</text>
<text x="445" y="787" fill="#000" text-anchor="middle" >06:00</text>
<text x="494" y="787" fill="#000" text-anchor="middle" >07:00</text>
<text x="543" y="787" fill="#000" text-anchor="middle" >08:00</text>
<text x="591" y="787" fill="#000" text-anchor="middle" >09:00</text>
<text x="640" y="787" fill="#000" text-anchor="middle" >10:00</text>
<text x="689" y="787" fill="#000" text-anchor="middle" >11:00</text>
<text x="738" y="787" fill="#000" text-anchor="middle" >12:00</text>
<text x="786" y="787" fill="#000" text-anchor="middle" >13:00</text>
<text x="835" y="787" fill="#000" text-anchor="middle" >14:00</text>
<text x="884" y="787" fill="#000" text-anchor="middle" >15:00</text>
<text x="933" y="787" fill="#000" text-anchor="middle" >16:00</text>
<text x="981" y="787" fill="#000" text-anchor="middle" >17:00</text>
<text x="1030" y="787" fill="#000" text-anchor="middle" >18:00</text>
<text x="1079" y="787" fill="#000" text-anchor="middle" >19:00</text>
<text x="1128" y="787" fill="#000" text-anchor="middle" >20:00</text>
<text x="1176" y="787" fill="#000" text-anchor="middle" >21:00</text>
<text x="1225" y="787" fill="#000" text-anchor="middle" >22:00</text>
<text x="1274" y="787" fill="#000" text-anchor="middle" >23:00</text>
<text x="1323" y="787" fill="#000" text-anchor="middle" >24:00</text>
<rect x="429" y="764" width="2" height="12" fill="#808080"/>
<rect x="448" y="764" width="2" height="12" fill="#FFF000"/>
<rect x="1154" y="764" width="2" height="12" fill="#808080"/>
<rect x="1160" y="764" width="2" height="12" fill="#FFF000"/>
<rect x="1200" y="764" width="2" height="12" fill="#000"/>
<text x="416" y="797" fill="#000" text-anchor="start" >06:06</text>
<circle cx="449" cy="793" r="4" fill="#FFF000"/>
<text x="454" y="797" fill="#000" text-anchor="start" >13</text>
<text x="1127" y="797" fill="#000" text-anchor="start" >20:42</text>
<rect x="1158" y="788" width="6" height="6" fill="none" stroke="#FFF000"/>
<text x="1168" y="797" fill="#000" text-anchor="start" >0:35</text>
<circle cx="1201" cy="793" r="4.5" fill="#000"/>
<text x="10" y="797" fill="#000" text-anchor="start" >14:35</text>
<path d="M40,797 L40,794.5 Q41,791 44.5,791 Q48,791 49,794.5 L49,797 Z" fill="#FFF000" shape-rendering="auto"/></svg>
<div style="position:absolute;left:0;top:800px;width:1432px;height:131px;background:#fff"></div><div style="position:absolute;left:1px;top:800px;width:86px;height:89px;background:#FF8000"></div><div style="position:absolute;left:89px;top:800px;width:115px;height:89px;background:#FF8000"></div><div style="position:absolute;left:206px;top:800px;width:115px;height:89px;background:#FF8000"></div><div style="position:absolute;left:323px;top:800px;width:117px;height:89px;background:#FF8000"></div><div style="position:absolute;left:442px;top:800px;width:116px;height:89px;background:#FF8000"></div><div style="position:absolute;left:560px;top:800px;width:116px;height:89px;background:#FF8000"></div><div style="position:absolute;left:678px;top:800px;width:116px;height:89px;background:#FF8000"></div><div style="position:absolute;left:796px;top:800px;width:116px;height:89px;background:#FF8000"></div><div style="position:absolute;left:914px;top:800px;width:517px;height:89px;background:#FF8000"></div><div style="position:absolute;left:0;top:889px;width:1432px;height:1px;background:#a0a0a0"></div><div style="position:absolute;left:0;top:930px;width:1432px;height:1px;background:#a0a0a0"></div><div style="position:absolute;left:1px;top:892px;width:86px;height:37px;background:#30E41E"></div><div style="position:absolute;left:0px;top:891px;width:1px;height:39px;background:#a0a0a0"></div><div style="position:absolute;left:89px;top:892px;width:115px;height:37px;background:#30E41E"></div><div style="position:absolute;left:88px;top:891px;width:1px;height:39px;background:#a0a0a0"></div><div style="position:absolute;left:206px;top:892px;width:115px;height:37px;background:#30E41E"></div><div style="position:absolute;left:205px;top:891px;width:1px;height:39px;background:#a0a0a0"></div><div style="position:absolute;left:323px;top:892px;width:117px;height:37px;background:#30E41E"></div><div style="position:absolute;left:322px;top:891px;width:1px;height:39px;background:#a0a0a0"></div><div style="position:absolute;left:442px;top:892px;width:116px;height:37px;background:#30E41E"></div><div style="position:absolute;left:441px;top:891px;width:1px;height:39px;background:#a0a0a0"></div><div style="position:absolute;left:560px;top:892px;width:870px;height:37px;background:#30E41E"></div><div style="position:absolute;left:559px;top:891px;width:1px;height:39px;background:#a0a0a0"></div><div class="t" style="left:8px;top:806px;font-weight:bold;letter-spacing:0.3px;">Sensor</div><div class="t" style="left:8px;top:822px;font-weight:bold;letter-spacing:0.3px;">MinWert</div><div class="t" style="left:8px;top:838px;font-weight:bold;letter-spacing:0.3px;">MaxWert</div><div class="t" style="left:8px;top:854px;font-weight:bold;letter-spacing:0.3px;">Durchschnitt</div><div class="t" style="left:8px;top:870px;font-weight:bold;letter-spacing:0.3px;">27.04. 23:59</div><div class="t" style="left:95px;top:806px;font-weight:bold;letter-spacing:0.3px;">Temp. 2m</div><div class="t" style="right:1233px;top:806px;font-weight:bold;letter-spacing:0.3px;">°C</div><div class="t" style="left:100px;top:822px;">06:31</div><div class="t" style="right:1233.5px;top:822px;">4.7</div><div class="t" style="left:101px;top:838px;">16:06</div><div class="t" style="right:1233.5px;top:838px;">21.3</div><div class="t" style="right:1233.5px;top:854px;">12.86</div><div class="t" style="left:97px;top:870px;">F: 77 %</div><div class="t" style="right:1233.5px;top:870px;font-weight:bold;letter-spacing:0.3px;">5.9</div><div class="t" style="left:212px;top:806px;font-weight:bold;letter-spacing:0.3px;">Temp. 5cm</div><div class="t" style="right:1115px;top:806px;font-weight:bold;letter-spacing:0.3px;">°C</div><div class="t" style="left:218px;top:822px;">06:01</div><div class="t" style="right:1115.5px;top:822px;">3.3</div><div class="t" style="left:219px;top:838px;">13:53</div><div class="t" style="right:1115.5px;top:838px;">34.1</div><div class="t" style="right:1115.5px;top:854px;">13.65</div><div class="t" style="right:1115.5px;top:870px;font-weight:bold;letter-spacing:0.3px;">3.9</div><div class="t" style="left:330px;top:806px;font-weight:bold;letter-spacing:0.3px;">Feuchte A.</div><div class="t" style="right:997.5px;top:806px;font-weight:bold;letter-spacing:0.3px;">%</div><div class="t" style="left:337px;top:822px;">15:25</div><div class="t" style="right:998.0px;top:822px;">35</div><div class="t" style="left:336px;top:838px;">06:34</div><div class="t" style="right:998.0px;top:838px;">77</div><div class="t" style="right:998.0px;top:854px;">56</div><div class="t" style="left:333px;top:870px;">5.55 g/m³</div><div class="t" style="right:998.0px;top:870px;font-weight:bold;letter-spacing:0.3px;">77</div><div class="t" style="left:448px;top:806px;font-weight:bold;letter-spacing:0.3px;">Regen</div><div class="t" style="right:880px;top:806px;font-weight:bold;letter-spacing:0.3px;">l/m²</div><div class="t" style="left:454px;top:838px;">00:00</div><div class="t" style="right:880.5px;top:838px;">0.0</div><div class="t" style="left:448px;top:854px;">Gesamt:</div><div class="t" style="right:880.5px;top:854px;">0.0</div><div class="t" style="left:451px;top:870px;">0.0 l/m²</div><div class="t" style="right:880.5px;top:870px;font-weight:bold;letter-spacing:0.3px;">0.0</div><div class="t" style="left:566px;top:806px;font-weight:bold;letter-spacing:0.3px;">Luftdruck</div><div class="t" style="right:761.5px;top:806px;font-weight:bold;letter-spacing:0.3px;">hPa</div><div class="t" style="left:572px;top:822px;">00:09</div><div class="t" style="right:762.0px;top:822px;">1022.6</div><div class="t" style="left:573px;top:838px;">23:42</div><div class="t" style="right:762.0px;top:838px;">1025.3</div><div class="t" style="left:566px;top:854px;">^0.8hPa/h</div><div class="t" style="right:762.0px;top:854px;">1023.4</div><div class="t" style="left:566px;top:870px;">sonnig</div><div class="t" style="right:762.0px;top:870px;font-weight:bold;letter-spacing:0.3px;">1025.3</div><div class="t" style="left:684px;top:806px;font-weight:bold;letter-spacing:0.3px;">Sonnenschein</div><div class="t" style="right:643px;top:806px;font-weight:bold;letter-spacing:0.3px;">min</div><div class="t" style="left:690px;top:838px;">10:21</div><div class="t" style="right:643.5px;top:838px;">1</div><div class="t" style="left:684px;top:854px;">7:29 h</div><div class="t" style="right:643.5px;top:854px;">0</div><div class="t" style="right:643.5px;top:870px;font-weight:bold;letter-spacing:0.3px;">0</div><div class="t" style="left:802px;top:806px;font-weight:bold;letter-spacing:0.3px;">Windböen</div><div class="t" style="right:526px;top:806px;font-weight:bold;letter-spacing:0.3px;">km/h</div><div class="t" style="left:802px;top:822px;">Ø 10 min.</div><div class="t" style="right:526.5px;top:822px;">1.2</div><div class="t" style="left:808px;top:838px;">05:32</div><div class="t" style="right:526.5px;top:838px;">N 22.7</div><div class="t" style="left:808px;top:854px;">130.2 km</div><div class="t" style="right:526.5px;top:854px;">5.4</div><div class="t" style="left:808px;top:870px;">1 Bft N</div><div class="t" style="right:526.5px;top:870px;font-weight:bold;letter-spacing:0.3px;">1.4</div><div class="t" style="left:920px;top:806px;font-weight:bold;letter-spacing:0.3px;">Wind</div><div class="t" style="right:409.5px;top:806px;font-weight:bold;letter-spacing:0.3px;">km/h</div><div class="t" style="left:920px;top:822px;">Ø 10 min.</div><div class="t" style="right:410.0px;top:822px;">0.0</div><div class="t" style="left:926px;top:838px;">03:58</div><div class="t" style="right:410.0px;top:838px;">W-NW 6.5</div><div class="t" style="left:926px;top:854px;">130.2 km</div><div class="t" style="right:410.0px;top:854px;">2.9</div><div class="t" style="left:926px;top:870px;">0 Bft N-NW</div><div class="t" style="right:410.0px;top:870px;font-weight:bold;letter-spacing:0.3px;">0.0</div><svg style="position:absolute;left:624px;top:872px" width="8" height="13" viewBox="0 0 8 13"><rect width="8" height="13" fill="#EEF4FF"/><rect x="3" y="2" width="2" height="9" fill="#000"/><path d="M0.5,5 L4,1 L7.5,5 L6.5,5.5 L4,3 L1.5,5.5 Z" fill="#000"/></svg><div class="t" style="left:8px;top:895px;">Wetterdaten</div><div class="t" style="left:8px;top:911px;">27.04.25 23:59</div><div class="t" style="left:94px;top:895px;">Temp. I.</div><div class="t" style="right:1233px;top:895px;">21.6 °C</div><div class="t" style="left:94px;top:911px;">Feuchte I.</div><div class="t" style="right:1233px;top:911px;">41 %</div><div class="t" style="left:210px;top:895px;">Temp. 2m</div><div class="t" style="right:1117px;top:895px;">5.9 °C</div><div class="t" style="left:210px;top:911px;">Feuchte A.</div><div class="t" style="right:1117px;top:911px;">77 %</div><div class="t" style="left:329px;top:895px;">Luftdruck</div><div class="t" style="right:998px;top:895px;">1025.3 hPa</div><div class="t" style="left:329px;top:911px;">Regen</div><div class="t" style="right:998px;top:911px;">0.0 l/m²</div><div class="t" style="left:447px;top:895px;">Wind</div><div class="t" style="right:880px;top:895px;">0.0 km/h</div><div class="t" style="left:447px;top:911px;">Richtung</div><div class="t" style="right:880px;top:911px;">N-NW</div><div class="t" style="left:1100px;top:895px;">WR 344°</div><div class="t" style="left:1100px;top:911px;">WC 5.9°C</div><div class="t" style="left:1170px;top:895px;">Solar</div><div class="t" style="left:1170px;top:911px;">ET</div><div class="t" style="right:147px;top:895px;">0 W/m²</div><div class="t" style="right:156px;top:911px;">0.000 mm</div><div class="t" style="left:1309px;top:895px;">UV</div><div class="t" style="left:1309px;top:911px;">Taupunkt</div><div class="t" style="right:6px;top:895px;">0.0 UV-I</div><div class="t" style="right:15px;top:911px;">2.2 °C</div><svg style="position:absolute;left:562px;top:893px" width="34" height="35" viewBox="0 0 34 35">
<rect x="0" y="0" width="34" height="35" fill="#5A8FC8"/>
<rect x="0" y="0" width="34" height="35" fill="none" stroke="#2a4a6a" stroke-width="1"/>
<g stroke="#F0F000" stroke-width="2">
<line x1="17" y1="4" x2="17" y2="31"/><line x1="4" y1="17" x2="30" y2="17"/>
<line x1="8" y1="8" x2="26" y2="26"/><line x1="26" y1="8" x2="8" y2="26"/>
</g>
<circle cx="17" cy="17" r="7" fill="#F8F000"/>
</svg>
</body></html>
